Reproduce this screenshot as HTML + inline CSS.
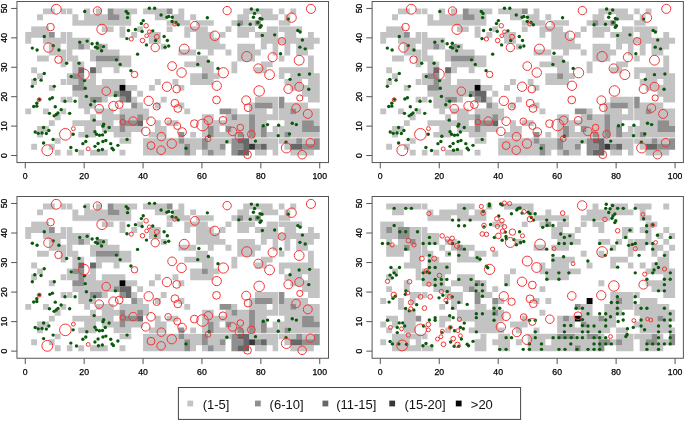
<!DOCTYPE html>
<html><head><meta charset="utf-8"><style>
html,body{margin:0;padding:0;background:#fff;}
svg{display:block;will-change:transform;}
text{font-family:"Liberation Sans", sans-serif;fill:#000;stroke:#000;stroke-width:0.25px;}
text.lg{stroke:none;fill:#111;}
</style></head><body>
<svg width="685" height="422" viewBox="0 0 685 422" font-size="8.7">
<rect width="685" height="422" fill="#fff"/>
<path fill="#c3c3c3" d="M42.95 8.44H54.73V14.32H42.95ZM60.62 8.44H72.39V14.32H60.62ZM84.17 8.44H90.06V14.32H84.17ZM95.95 8.44H101.84V14.32H95.95ZM113.62 8.44H137.17V14.32H113.62ZM143.06 8.44H166.62V14.32H143.06ZM178.40 8.44H184.29V14.32H178.40ZM243.18 8.44H272.63V14.32H243.18ZM278.52 8.44H284.40V14.32H278.52ZM290.29 8.44H296.18V14.32H290.29ZM37.06 14.32H42.95V20.21H37.06ZM72.39 14.32H78.28V20.21H72.39ZM84.17 14.32H107.73V20.21H84.17ZM119.51 14.32H131.29V20.21H119.51ZM154.84 14.32H166.62V20.21H154.84ZM172.51 14.32H184.29V20.21H172.51ZM190.18 14.32H196.07V20.21H190.18ZM237.29 14.32H249.07V20.21H237.29ZM260.85 14.32H278.52V20.21H260.85ZM284.40 14.32H290.29V20.21H284.40ZM72.39 20.21H131.29V26.09H72.39ZM166.62 20.21H190.18V26.09H166.62ZM196.07 20.21H213.73V26.09H196.07ZM231.40 20.21H237.29V26.09H231.40ZM243.18 20.21H254.96V26.09H243.18ZM278.52 20.21H290.29V26.09H278.52ZM31.17 26.09H48.84V31.97H31.17ZM101.84 26.09H113.62V31.97H101.84ZM119.51 26.09H125.40V31.97H119.51ZM137.17 26.09H143.06V31.97H137.17ZM166.62 26.09H172.51V31.97H166.62ZM184.29 26.09H207.85V31.97H184.29ZM225.51 26.09H231.40V31.97H225.51ZM237.29 26.09H254.96V31.97H237.29ZM266.74 26.09H302.07V31.97H266.74ZM25.28 31.97H48.84V37.86H25.28ZM60.62 31.97H72.39V37.86H60.62ZM119.51 31.97H125.40V37.86H119.51ZM131.29 31.97H137.17V37.86H131.29ZM148.95 31.97H160.73V37.86H148.95ZM184.29 31.97H190.18V37.86H184.29ZM196.07 31.97H213.73V37.86H196.07ZM219.62 31.97H225.51V37.86H219.62ZM237.29 31.97H249.07V37.86H237.29ZM254.96 31.97H278.52V37.86H254.96ZM284.40 31.97H296.18V37.86H284.40ZM307.96 31.97H313.85V37.86H307.96ZM25.28 37.86H31.17V43.74H25.28ZM42.95 37.86H90.06V43.74H42.95ZM148.95 37.86H160.73V43.74H148.95ZM196.07 37.86H219.62V43.74H196.07ZM260.85 37.86H319.74V43.74H260.85ZM48.84 43.74H60.62V49.62H48.84ZM66.50 43.74H78.28V49.62H66.50ZM84.17 43.74H90.06V49.62H84.17ZM101.84 43.74H107.73V49.62H101.84ZM160.73 43.74H166.62V49.62H160.73ZM196.07 43.74H225.51V49.62H196.07ZM237.29 43.74H254.96V49.62H237.29ZM260.85 43.74H266.74V49.62H260.85ZM272.63 43.74H278.52V49.62H272.63ZM284.40 43.74H290.29V49.62H284.40ZM296.18 43.74H313.85V49.62H296.18ZM48.84 49.62H72.39V55.51H48.84ZM90.06 49.62H119.51V55.51H90.06ZM178.40 49.62H196.07V55.51H178.40ZM207.85 49.62H213.73V55.51H207.85ZM225.51 49.62H231.40V55.51H225.51ZM237.29 49.62H260.85V55.51H237.29ZM272.63 49.62H278.52V55.51H272.63ZM284.40 49.62H290.29V55.51H284.40ZM296.18 49.62H307.96V55.51H296.18ZM37.06 55.51H48.84V61.39H37.06ZM60.62 55.51H78.28V61.39H60.62ZM90.06 55.51H95.95V61.39H90.06ZM119.51 55.51H131.29V61.39H119.51ZM196.07 55.51H207.85V61.39H196.07ZM237.29 55.51H254.96V61.39H237.29ZM278.52 55.51H284.40V61.39H278.52ZM307.96 55.51H313.85V61.39H307.96ZM60.62 61.39H66.50V67.27H60.62ZM72.39 61.39H84.17V67.27H72.39ZM95.95 61.39H131.29V67.27H95.95ZM184.29 61.39H213.73V67.27H184.29ZM231.40 61.39H237.29V67.27H231.40ZM260.85 61.39H272.63V67.27H260.85ZM307.96 61.39H313.85V67.27H307.96ZM31.17 67.27H37.06V73.16H31.17ZM72.39 67.27H78.28V73.16H72.39ZM95.95 67.27H101.84V73.16H95.95ZM113.62 67.27H119.51V73.16H113.62ZM201.96 67.27H213.73V73.16H201.96ZM231.40 67.27H237.29V73.16H231.40ZM254.96 67.27H266.74V73.16H254.96ZM278.52 67.27H313.85V73.16H278.52ZM37.06 73.16H42.95V79.04H37.06ZM66.50 73.16H72.39V79.04H66.50ZM90.06 73.16H95.95V79.04H90.06ZM190.18 73.16H201.96V79.04H190.18ZM207.85 73.16H219.62V79.04H207.85ZM278.52 73.16H284.40V79.04H278.52ZM290.29 73.16H319.74V79.04H290.29ZM31.17 79.04H37.06V84.92H31.17ZM60.62 79.04H78.28V84.92H60.62ZM84.17 79.04H95.95V84.92H84.17ZM101.84 79.04H125.40V84.92H101.84ZM154.84 79.04H160.73V84.92H154.84ZM172.51 79.04H178.40V84.92H172.51ZM190.18 79.04H213.73V84.92H190.18ZM284.40 79.04H302.07V84.92H284.40ZM307.96 79.04H319.74V84.92H307.96ZM48.84 84.92H54.73V90.80H48.84ZM84.17 84.92H119.51V90.80H84.17ZM125.40 84.92H137.17V90.80H125.40ZM148.95 84.92H154.84V90.80H148.95ZM178.40 84.92H184.29V90.80H178.40ZM290.29 84.92H319.74V90.80H290.29ZM72.39 90.80H113.62V96.69H72.39ZM137.17 90.80H143.06V96.69H137.17ZM302.07 90.80H319.74V96.69H302.07ZM60.62 96.69H72.39V102.57H60.62ZM78.28 96.69H90.06V102.57H78.28ZM101.84 96.69H107.73V102.57H101.84ZM131.29 96.69H137.17V102.57H131.29ZM160.73 96.69H166.62V102.57H160.73ZM254.96 96.69H278.52V102.57H254.96ZM307.96 96.69H319.74V102.57H307.96ZM78.28 102.57H95.95V108.45H78.28ZM137.17 102.57H143.06V108.45H137.17ZM154.84 102.57H160.73V108.45H154.84ZM178.40 102.57H184.29V108.45H178.40ZM249.07 102.57H254.96V108.45H249.07ZM272.63 102.57H278.52V108.45H272.63ZM284.40 102.57H307.96V108.45H284.40ZM25.28 108.45H31.17V114.34H25.28ZM42.95 108.45H48.84V114.34H42.95ZM60.62 108.45H66.50V114.34H60.62ZM84.17 108.45H90.06V114.34H84.17ZM95.95 108.45H113.62V114.34H95.95ZM119.51 108.45H148.95V114.34H119.51ZM184.29 108.45H190.18V114.34H184.29ZM231.40 108.45H237.29V114.34H231.40ZM249.07 108.45H266.74V114.34H249.07ZM272.63 108.45H290.29V114.34H272.63ZM296.18 108.45H319.74V114.34H296.18ZM54.73 114.34H60.62V120.22H54.73ZM90.06 114.34H95.95V120.22H90.06ZM101.84 114.34H119.51V120.22H101.84ZM125.40 114.34H137.17V120.22H125.40ZM143.06 114.34H148.95V120.22H143.06ZM201.96 114.34H213.73V120.22H201.96ZM225.51 114.34H231.40V120.22H225.51ZM237.29 114.34H249.07V120.22H237.29ZM254.96 114.34H319.74V120.22H254.96ZM48.84 120.22H54.73V126.10H48.84ZM72.39 120.22H113.62V126.10H72.39ZM154.84 120.22H160.73V126.10H154.84ZM166.62 120.22H178.40V126.10H166.62ZM201.96 120.22H249.07V126.10H201.96ZM254.96 120.22H266.74V126.10H254.96ZM284.40 120.22H302.07V126.10H284.40ZM313.85 120.22H319.74V126.10H313.85ZM37.06 126.10H48.84V131.99H37.06ZM84.17 126.10H95.95V131.99H84.17ZM101.84 126.10H119.51V131.99H101.84ZM125.40 126.10H143.06V131.99H125.40ZM154.84 126.10H166.62V131.99H154.84ZM201.96 126.10H207.85V131.99H201.96ZM213.73 126.10H219.62V131.99H213.73ZM231.40 126.10H249.07V131.99H231.40ZM254.96 126.10H260.85V131.99H254.96ZM272.63 126.10H302.07V131.99H272.63ZM37.06 131.99H42.95V137.87H37.06ZM78.28 131.99H95.95V137.87H78.28ZM113.62 131.99H131.29V137.87H113.62ZM148.95 131.99H166.62V137.87H148.95ZM190.18 131.99H196.07V137.87H190.18ZM201.96 131.99H207.85V137.87H201.96ZM213.73 131.99H237.29V137.87H213.73ZM243.18 131.99H249.07V137.87H243.18ZM254.96 131.99H260.85V137.87H254.96ZM266.74 131.99H284.40V137.87H266.74ZM290.29 131.99H319.74V137.87H290.29ZM54.73 137.87H60.62V143.75H54.73ZM119.51 137.87H131.29V143.75H119.51ZM143.06 137.87H178.40V143.75H143.06ZM184.29 137.87H201.96V143.75H184.29ZM207.85 137.87H231.40V143.75H207.85ZM249.07 137.87H296.18V143.75H249.07ZM302.07 137.87H313.85V143.75H302.07ZM31.17 143.75H37.06V149.64H31.17ZM48.84 143.75H54.73V149.64H48.84ZM143.06 143.75H184.29V149.64H143.06ZM190.18 143.75H201.96V149.64H190.18ZM207.85 143.75H219.62V149.64H207.85ZM266.74 143.75H278.52V149.64H266.74ZM284.40 143.75H290.29V149.64H284.40ZM54.73 149.64H60.62V155.52H54.73ZM66.50 149.64H72.39V155.52H66.50ZM78.28 149.64H84.17V155.52H78.28ZM90.06 149.64H107.73V155.52H90.06ZM119.51 149.64H125.40V155.52H119.51ZM143.06 149.64H184.29V155.52H143.06ZM190.18 149.64H196.07V155.52H190.18ZM201.96 149.64H207.85V155.52H201.96ZM213.73 149.64H225.51V155.52H213.73ZM254.96 149.64H266.74V155.52H254.96ZM272.63 149.64H278.52V155.52H272.63ZM290.29 149.64H313.85V155.52H290.29Z"/>
<path fill="#8f8f8f" d="M107.73 8.44H113.62V14.32H107.73ZM166.62 8.44H172.51V14.32H166.62ZM107.73 14.32H119.51V20.21H107.73ZM237.29 20.21H243.18V26.09H237.29ZM254.96 20.21H260.85V26.09H254.96ZM48.84 31.97H54.73V37.86H48.84ZM78.28 43.74H84.17V49.62H78.28ZM95.95 43.74H101.84V49.62H95.95ZM95.95 55.51H119.51V61.39H95.95ZM72.39 73.16H84.17V79.04H72.39ZM201.96 73.16H207.85V79.04H201.96ZM78.28 79.04H84.17V84.92H78.28ZM72.39 84.92H84.17V90.80H72.39ZM113.62 90.80H119.51V96.69H113.62ZM90.06 96.69H101.84V102.57H90.06ZM119.51 96.69H125.40V102.57H119.51ZM278.52 96.69H284.40V102.57H278.52ZM131.29 102.57H137.17V108.45H131.29ZM254.96 102.57H272.63V108.45H254.96ZM278.52 102.57H284.40V108.45H278.52ZM219.62 108.45H231.40V114.34H219.62ZM290.29 108.45H296.18V114.34H290.29ZM119.51 114.34H125.40V120.22H119.51ZM137.17 114.34H143.06V120.22H137.17ZM231.40 114.34H237.29V120.22H231.40ZM249.07 114.34H254.96V120.22H249.07ZM119.51 120.22H137.17V126.10H119.51ZM249.07 120.22H254.96V126.10H249.07ZM302.07 120.22H313.85V126.10H302.07ZM119.51 126.10H125.40V131.99H119.51ZM207.85 126.10H213.73V131.99H207.85ZM225.51 126.10H231.40V131.99H225.51ZM249.07 126.10H254.96V131.99H249.07ZM260.85 126.10H266.74V131.99H260.85ZM302.07 126.10H319.74V131.99H302.07ZM178.40 131.99H184.29V137.87H178.40ZM207.85 131.99H213.73V137.87H207.85ZM237.29 131.99H243.18V137.87H237.29ZM249.07 131.99H254.96V137.87H249.07ZM260.85 131.99H266.74V137.87H260.85ZM284.40 131.99H290.29V137.87H284.40ZM178.40 137.87H184.29V143.75H178.40ZM201.96 137.87H207.85V143.75H201.96ZM231.40 137.87H237.29V143.75H231.40ZM296.18 137.87H302.07V143.75H296.18ZM313.85 137.87H319.74V143.75H313.85ZM184.29 143.75H190.18V149.64H184.29ZM201.96 143.75H207.85V149.64H201.96ZM219.62 143.75H225.51V149.64H219.62ZM231.40 143.75H243.18V149.64H231.40ZM254.96 143.75H260.85V149.64H254.96ZM302.07 143.75H319.74V149.64H302.07ZM184.29 149.64H190.18V155.52H184.29ZM207.85 149.64H213.73V155.52H207.85ZM231.40 149.64H237.29V155.52H231.40Z"/>
<path fill="#676767" d="M78.28 67.27H84.17V73.16H78.28ZM90.06 67.27H95.95V73.16H90.06ZM119.51 90.80H131.29V96.69H119.51ZM125.40 96.69H131.29V102.57H125.40ZM137.17 120.22H143.06V126.10H137.17ZM237.29 137.87H249.07V143.75H237.29ZM243.18 143.75H249.07V149.64H243.18ZM260.85 143.75H266.74V149.64H260.85ZM290.29 143.75H302.07V149.64H290.29ZM237.29 149.64H249.07V155.52H237.29Z"/>
<path fill="#383838" d="M249.07 143.75H254.96V149.64H249.07Z"/>
<path fill="#050505" d="M119.51 84.92H125.40V90.80H119.51Z"/>
<line x1="66.50" y1="8.44" x2="66.50" y2="155.52" stroke="#fff" stroke-opacity="0.85" stroke-width="0.8"/>
<line x1="278.52" y1="8.44" x2="278.52" y2="155.52" stroke="#fff" stroke-opacity="0.85" stroke-width="0.8"/>
<line x1="25.28" y1="137.87" x2="319.74" y2="137.87" stroke="#fff" stroke-opacity="0.85" stroke-width="0.8"/>
<line x1="25.28" y1="26.09" x2="319.74" y2="26.09" stroke="#fff" stroke-opacity="0.85" stroke-width="0.8"/>
<circle cx="84.70" cy="11.53" r="1.70" fill="#0b5a0b"/>
<circle cx="44.27" cy="36.53" r="1.70" fill="#0b5a0b"/>
<circle cx="79.76" cy="42.24" r="1.70" fill="#0b5a0b"/>
<circle cx="87.18" cy="41.09" r="1.70" fill="#0b5a0b"/>
<circle cx="92.09" cy="43.74" r="1.70" fill="#0b5a0b"/>
<circle cx="97.22" cy="43.18" r="1.70" fill="#0b5a0b"/>
<circle cx="95.51" cy="47.15" r="1.70" fill="#0b5a0b"/>
<circle cx="97.42" cy="48.09" r="1.70" fill="#0b5a0b"/>
<circle cx="103.49" cy="46.59" r="1.70" fill="#0b5a0b"/>
<circle cx="101.57" cy="50.74" r="1.70" fill="#0b5a0b"/>
<circle cx="32.32" cy="48.09" r="1.70" fill="#0b5a0b"/>
<circle cx="37.09" cy="50.00" r="1.70" fill="#0b5a0b"/>
<circle cx="53.19" cy="45.65" r="1.70" fill="#0b5a0b"/>
<circle cx="58.91" cy="50.00" r="1.70" fill="#0b5a0b"/>
<circle cx="66.68" cy="63.27" r="1.70" fill="#0b5a0b"/>
<circle cx="79.02" cy="63.27" r="1.70" fill="#0b5a0b"/>
<circle cx="116.39" cy="59.86" r="1.70" fill="#0b5a0b"/>
<circle cx="120.18" cy="64.39" r="1.70" fill="#0b5a0b"/>
<circle cx="44.27" cy="73.51" r="1.70" fill="#0b5a0b"/>
<circle cx="34.79" cy="79.36" r="1.70" fill="#0b5a0b"/>
<circle cx="41.06" cy="80.13" r="1.70" fill="#0b5a0b"/>
<circle cx="71.22" cy="76.54" r="1.70" fill="#0b5a0b"/>
<circle cx="84.50" cy="80.51" r="1.70" fill="#0b5a0b"/>
<circle cx="126.19" cy="11.53" r="1.70" fill="#0b5a0b"/>
<circle cx="127.90" cy="13.41" r="1.70" fill="#0b5a0b"/>
<circle cx="127.52" cy="17.59" r="1.70" fill="#0b5a0b"/>
<circle cx="149.34" cy="8.29" r="1.70" fill="#0b5a0b"/>
<circle cx="154.64" cy="8.29" r="1.70" fill="#0b5a0b"/>
<circle cx="161.08" cy="14.94" r="1.70" fill="#0b5a0b"/>
<circle cx="166.97" cy="17.21" r="1.70" fill="#0b5a0b"/>
<circle cx="168.68" cy="16.44" r="1.70" fill="#0b5a0b"/>
<circle cx="172.27" cy="17.21" r="1.70" fill="#0b5a0b"/>
<circle cx="172.10" cy="21.56" r="1.70" fill="#0b5a0b"/>
<circle cx="175.90" cy="22.50" r="1.70" fill="#0b5a0b"/>
<circle cx="178.16" cy="24.80" r="1.70" fill="#0b5a0b"/>
<circle cx="143.24" cy="20.62" r="1.70" fill="#0b5a0b"/>
<circle cx="141.36" cy="23.47" r="1.70" fill="#0b5a0b"/>
<circle cx="135.47" cy="29.53" r="1.70" fill="#0b5a0b"/>
<circle cx="142.12" cy="31.41" r="1.70" fill="#0b5a0b"/>
<circle cx="128.46" cy="30.47" r="1.70" fill="#0b5a0b"/>
<circle cx="152.75" cy="30.85" r="1.70" fill="#0b5a0b"/>
<circle cx="164.12" cy="36.53" r="1.70" fill="#0b5a0b"/>
<circle cx="167.36" cy="40.53" r="1.70" fill="#0b5a0b"/>
<circle cx="155.58" cy="40.53" r="1.70" fill="#0b5a0b"/>
<circle cx="146.48" cy="44.89" r="1.70" fill="#0b5a0b"/>
<circle cx="165.06" cy="47.15" r="1.70" fill="#0b5a0b"/>
<circle cx="168.68" cy="46.00" r="1.70" fill="#0b5a0b"/>
<circle cx="126.93" cy="38.62" r="1.70" fill="#0b5a0b"/>
<circle cx="137.56" cy="54.15" r="1.70" fill="#0b5a0b"/>
<circle cx="207.37" cy="17.76" r="1.70" fill="#0b5a0b"/>
<circle cx="198.83" cy="53.21" r="1.70" fill="#0b5a0b"/>
<circle cx="208.35" cy="61.18" r="1.70" fill="#0b5a0b"/>
<circle cx="197.72" cy="64.39" r="1.70" fill="#0b5a0b"/>
<circle cx="218.00" cy="68.39" r="1.70" fill="#0b5a0b"/>
<circle cx="130.93" cy="70.65" r="1.70" fill="#0b5a0b"/>
<circle cx="251.34" cy="9.06" r="1.70" fill="#0b5a0b"/>
<circle cx="257.40" cy="10.00" r="1.70" fill="#0b5a0b"/>
<circle cx="254.58" cy="13.41" r="1.70" fill="#0b5a0b"/>
<circle cx="253.43" cy="17.21" r="1.70" fill="#0b5a0b"/>
<circle cx="260.08" cy="18.53" r="1.70" fill="#0b5a0b"/>
<circle cx="261.97" cy="19.09" r="1.70" fill="#0b5a0b"/>
<circle cx="257.79" cy="22.50" r="1.70" fill="#0b5a0b"/>
<circle cx="250.22" cy="24.21" r="1.70" fill="#0b5a0b"/>
<circle cx="238.82" cy="24.80" r="1.70" fill="#0b5a0b"/>
<circle cx="261.20" cy="25.74" r="1.70" fill="#0b5a0b"/>
<circle cx="260.08" cy="27.24" r="1.70" fill="#0b5a0b"/>
<circle cx="262.35" cy="35.41" r="1.70" fill="#0b5a0b"/>
<circle cx="274.69" cy="34.83" r="1.70" fill="#0b5a0b"/>
<circle cx="288.14" cy="19.09" r="1.70" fill="#0b5a0b"/>
<circle cx="297.83" cy="30.47" r="1.70" fill="#0b5a0b"/>
<circle cx="300.10" cy="32.00" r="1.70" fill="#0b5a0b"/>
<circle cx="302.40" cy="39.94" r="1.70" fill="#0b5a0b"/>
<circle cx="299.92" cy="47.15" r="1.70" fill="#0b5a0b"/>
<circle cx="305.22" cy="48.86" r="1.70" fill="#0b5a0b"/>
<circle cx="280.58" cy="53.80" r="1.70" fill="#0b5a0b"/>
<circle cx="299.16" cy="74.63" r="1.70" fill="#0b5a0b"/>
<circle cx="309.58" cy="74.07" r="1.70" fill="#0b5a0b"/>
<circle cx="290.06" cy="79.36" r="1.70" fill="#0b5a0b"/>
<circle cx="32.32" cy="86.33" r="1.70" fill="#0b5a0b"/>
<circle cx="54.31" cy="86.33" r="1.70" fill="#0b5a0b"/>
<circle cx="85.23" cy="88.28" r="1.70" fill="#0b5a0b"/>
<circle cx="86.38" cy="96.42" r="1.70" fill="#0b5a0b"/>
<circle cx="94.57" cy="101.28" r="1.70" fill="#0b5a0b"/>
<circle cx="90.68" cy="104.78" r="1.70" fill="#0b5a0b"/>
<circle cx="115.36" cy="95.45" r="1.70" fill="#0b5a0b"/>
<circle cx="39.53" cy="99.34" r="1.70" fill="#0b5a0b"/>
<circle cx="36.79" cy="103.22" r="1.70" fill="#0b5a0b"/>
<circle cx="33.70" cy="106.54" r="1.70" fill="#0b5a0b"/>
<circle cx="36.79" cy="106.13" r="1.70" fill="#0b5a0b"/>
<circle cx="49.84" cy="98.95" r="1.70" fill="#0b5a0b"/>
<circle cx="52.37" cy="97.78" r="1.70" fill="#0b5a0b"/>
<circle cx="65.00" cy="101.28" r="1.70" fill="#0b5a0b"/>
<circle cx="75.10" cy="101.28" r="1.70" fill="#0b5a0b"/>
<circle cx="55.29" cy="106.72" r="1.70" fill="#0b5a0b"/>
<circle cx="61.12" cy="109.63" r="1.70" fill="#0b5a0b"/>
<circle cx="49.46" cy="113.34" r="1.70" fill="#0b5a0b"/>
<circle cx="54.11" cy="115.87" r="1.70" fill="#0b5a0b"/>
<circle cx="56.26" cy="114.48" r="1.70" fill="#0b5a0b"/>
<circle cx="57.99" cy="112.96" r="1.70" fill="#0b5a0b"/>
<circle cx="69.66" cy="113.34" r="1.70" fill="#0b5a0b"/>
<circle cx="94.15" cy="120.13" r="1.70" fill="#0b5a0b"/>
<circle cx="103.69" cy="124.22" r="1.70" fill="#0b5a0b"/>
<circle cx="102.93" cy="126.16" r="1.70" fill="#0b5a0b"/>
<circle cx="109.14" cy="127.52" r="1.70" fill="#0b5a0b"/>
<circle cx="43.60" cy="127.52" r="1.70" fill="#0b5a0b"/>
<circle cx="48.87" cy="130.43" r="1.70" fill="#0b5a0b"/>
<circle cx="35.23" cy="131.99" r="1.70" fill="#0b5a0b"/>
<circle cx="38.18" cy="133.34" r="1.70" fill="#0b5a0b"/>
<circle cx="42.06" cy="132.96" r="1.70" fill="#0b5a0b"/>
<circle cx="46.33" cy="133.55" r="1.70" fill="#0b5a0b"/>
<circle cx="53.14" cy="139.55" r="1.70" fill="#0b5a0b"/>
<circle cx="43.60" cy="143.05" r="1.70" fill="#0b5a0b"/>
<circle cx="73.16" cy="134.31" r="1.70" fill="#0b5a0b"/>
<circle cx="86.76" cy="136.25" r="1.70" fill="#0b5a0b"/>
<circle cx="94.95" cy="131.78" r="1.70" fill="#0b5a0b"/>
<circle cx="96.51" cy="134.31" r="1.70" fill="#0b5a0b"/>
<circle cx="99.43" cy="135.28" r="1.70" fill="#0b5a0b"/>
<circle cx="102.52" cy="134.90" r="1.70" fill="#0b5a0b"/>
<circle cx="105.26" cy="131.99" r="1.70" fill="#0b5a0b"/>
<circle cx="85.79" cy="141.49" r="1.70" fill="#0b5a0b"/>
<circle cx="82.88" cy="143.64" r="1.70" fill="#0b5a0b"/>
<circle cx="98.07" cy="143.43" r="1.70" fill="#0b5a0b"/>
<circle cx="102.93" cy="141.49" r="1.70" fill="#0b5a0b"/>
<circle cx="105.84" cy="140.52" r="1.70" fill="#0b5a0b"/>
<circle cx="110.70" cy="143.64" r="1.70" fill="#0b5a0b"/>
<circle cx="117.89" cy="145.37" r="1.70" fill="#0b5a0b"/>
<circle cx="94.95" cy="146.34" r="1.70" fill="#0b5a0b"/>
<circle cx="70.83" cy="147.52" r="1.70" fill="#0b5a0b"/>
<circle cx="76.46" cy="150.43" r="1.70" fill="#0b5a0b"/>
<circle cx="98.45" cy="150.23" r="1.70" fill="#0b5a0b"/>
<circle cx="102.34" cy="149.46" r="1.70" fill="#0b5a0b"/>
<circle cx="112.06" cy="148.28" r="1.70" fill="#0b5a0b"/>
<circle cx="113.41" cy="149.84" r="1.70" fill="#0b5a0b"/>
<circle cx="127.07" cy="139.55" r="1.70" fill="#0b5a0b"/>
<circle cx="186.00" cy="148.28" r="1.70" fill="#0b5a0b"/>
<circle cx="208.96" cy="136.25" r="1.70" fill="#0b5a0b"/>
<circle cx="226.84" cy="141.69" r="1.70" fill="#0b5a0b"/>
<circle cx="308.76" cy="89.25" r="1.70" fill="#0b5a0b"/>
<circle cx="263.26" cy="125.75" r="1.70" fill="#0b5a0b"/>
<circle cx="267.53" cy="124.60" r="1.70" fill="#0b5a0b"/>
<circle cx="278.63" cy="125.19" r="1.70" fill="#0b5a0b"/>
<circle cx="292.24" cy="123.25" r="1.70" fill="#0b5a0b"/>
<circle cx="296.33" cy="124.60" r="1.70" fill="#0b5a0b"/>
<circle cx="278.22" cy="135.66" r="1.70" fill="#0b5a0b"/>
<circle cx="289.50" cy="133.93" r="1.70" fill="#0b5a0b"/>
<circle cx="286.02" cy="142.08" r="1.70" fill="#0b5a0b"/>
<circle cx="255.49" cy="141.11" r="1.70" fill="#0b5a0b"/>
<circle cx="56.23" cy="9.23" r="4.93" fill="none" stroke="#f23636" stroke-width="1.00"/>
<circle cx="97.42" cy="10.94" r="4.17" fill="none" stroke="#f23636" stroke-width="1.00"/>
<circle cx="50.54" cy="27.06" r="3.79" fill="none" stroke="#f23636" stroke-width="1.00"/>
<circle cx="101.96" cy="29.33" r="5.12" fill="none" stroke="#f23636" stroke-width="1.00"/>
<circle cx="48.45" cy="47.53" r="4.74" fill="none" stroke="#f23636" stroke-width="1.00"/>
<circle cx="58.52" cy="59.65" r="3.79" fill="none" stroke="#f23636" stroke-width="1.00"/>
<circle cx="83.94" cy="74.27" r="5.31" fill="none" stroke="#f23636" stroke-width="1.00"/>
<circle cx="146.10" cy="25.74" r="2.27" fill="none" stroke="#f23636" stroke-width="1.00"/>
<circle cx="149.34" cy="31.80" r="1.90" fill="none" stroke="#f23636" stroke-width="1.00"/>
<circle cx="146.66" cy="35.77" r="1.90" fill="none" stroke="#f23636" stroke-width="1.00"/>
<circle cx="156.90" cy="36.74" r="2.46" fill="none" stroke="#f23636" stroke-width="1.00"/>
<circle cx="142.50" cy="40.53" r="2.27" fill="none" stroke="#f23636" stroke-width="1.00"/>
<circle cx="131.29" cy="39.00" r="2.09" fill="none" stroke="#f23636" stroke-width="1.00"/>
<circle cx="155.20" cy="47.53" r="4.17" fill="none" stroke="#f23636" stroke-width="1.00"/>
<circle cx="174.57" cy="24.21" r="1.90" fill="none" stroke="#f23636" stroke-width="1.00"/>
<circle cx="194.86" cy="25.74" r="4.36" fill="none" stroke="#f23636" stroke-width="1.00"/>
<circle cx="214.79" cy="35.77" r="4.74" fill="none" stroke="#f23636" stroke-width="1.00"/>
<circle cx="184.23" cy="49.03" r="4.93" fill="none" stroke="#f23636" stroke-width="1.00"/>
<circle cx="172.10" cy="66.10" r="4.36" fill="none" stroke="#f23636" stroke-width="1.00"/>
<circle cx="181.58" cy="72.57" r="4.74" fill="none" stroke="#f23636" stroke-width="1.00"/>
<circle cx="223.33" cy="72.74" r="5.12" fill="none" stroke="#f23636" stroke-width="1.00"/>
<circle cx="134.52" cy="74.45" r="3.22" fill="none" stroke="#f23636" stroke-width="1.00"/>
<circle cx="227.13" cy="10.56" r="4.17" fill="none" stroke="#f23636" stroke-width="1.00"/>
<circle cx="310.94" cy="8.85" r="4.55" fill="none" stroke="#f23636" stroke-width="1.00"/>
<circle cx="291.56" cy="17.59" r="4.74" fill="none" stroke="#f23636" stroke-width="1.00"/>
<circle cx="281.90" cy="41.27" r="3.79" fill="none" stroke="#f23636" stroke-width="1.00"/>
<circle cx="246.80" cy="56.62" r="5.12" fill="none" stroke="#f23636" stroke-width="1.00"/>
<circle cx="272.60" cy="57.21" r="4.55" fill="none" stroke="#f23636" stroke-width="1.00"/>
<circle cx="299.16" cy="60.24" r="4.93" fill="none" stroke="#f23636" stroke-width="1.00"/>
<circle cx="258.37" cy="68.39" r="4.55" fill="none" stroke="#f23636" stroke-width="1.00"/>
<circle cx="269.56" cy="74.63" r="4.93" fill="none" stroke="#f23636" stroke-width="1.00"/>
<circle cx="106.23" cy="91.19" r="4.27" fill="none" stroke="#f23636" stroke-width="1.00"/>
<circle cx="99.22" cy="108.66" r="4.27" fill="none" stroke="#f23636" stroke-width="1.00"/>
<circle cx="113.41" cy="106.13" r="4.66" fill="none" stroke="#f23636" stroke-width="1.00"/>
<circle cx="119.24" cy="104.60" r="3.89" fill="none" stroke="#f23636" stroke-width="1.00"/>
<circle cx="122.75" cy="122.07" r="2.72" fill="none" stroke="#f23636" stroke-width="1.00"/>
<circle cx="39.15" cy="99.72" r="1.94" fill="none" stroke="#f23636" stroke-width="1.00"/>
<circle cx="65.39" cy="134.31" r="5.83" fill="none" stroke="#f23636" stroke-width="1.00"/>
<circle cx="73.37" cy="128.66" r="1.94" fill="none" stroke="#f23636" stroke-width="1.00"/>
<circle cx="47.31" cy="150.23" r="5.44" fill="none" stroke="#f23636" stroke-width="1.00"/>
<circle cx="88.15" cy="148.87" r="1.94" fill="none" stroke="#f23636" stroke-width="1.00"/>
<circle cx="166.94" cy="86.72" r="4.66" fill="none" stroke="#f23636" stroke-width="1.00"/>
<circle cx="176.66" cy="89.04" r="3.89" fill="none" stroke="#f23636" stroke-width="1.00"/>
<circle cx="216.74" cy="85.75" r="4.66" fill="none" stroke="#f23636" stroke-width="1.00"/>
<circle cx="216.53" cy="99.92" r="3.89" fill="none" stroke="#f23636" stroke-width="1.00"/>
<circle cx="148.66" cy="100.89" r="4.66" fill="none" stroke="#f23636" stroke-width="1.00"/>
<circle cx="156.64" cy="106.54" r="3.50" fill="none" stroke="#f23636" stroke-width="1.00"/>
<circle cx="174.92" cy="103.22" r="3.89" fill="none" stroke="#f23636" stroke-width="1.00"/>
<circle cx="177.84" cy="108.48" r="3.89" fill="none" stroke="#f23636" stroke-width="1.00"/>
<circle cx="133.11" cy="121.10" r="4.27" fill="none" stroke="#f23636" stroke-width="1.00"/>
<circle cx="151.01" cy="121.28" r="4.27" fill="none" stroke="#f23636" stroke-width="1.00"/>
<circle cx="168.12" cy="121.28" r="3.30" fill="none" stroke="#f23636" stroke-width="1.00"/>
<circle cx="177.25" cy="125.96" r="3.50" fill="none" stroke="#f23636" stroke-width="1.00"/>
<circle cx="182.11" cy="131.99" r="4.27" fill="none" stroke="#f23636" stroke-width="1.00"/>
<circle cx="145.74" cy="131.40" r="4.27" fill="none" stroke="#f23636" stroke-width="1.00"/>
<circle cx="161.32" cy="136.63" r="4.27" fill="none" stroke="#f23636" stroke-width="1.00"/>
<circle cx="194.36" cy="123.63" r="3.89" fill="none" stroke="#f23636" stroke-width="1.00"/>
<circle cx="202.54" cy="124.99" r="5.83" fill="none" stroke="#f23636" stroke-width="1.00"/>
<circle cx="208.38" cy="120.31" r="4.27" fill="none" stroke="#f23636" stroke-width="1.00"/>
<circle cx="222.95" cy="120.31" r="3.89" fill="none" stroke="#f23636" stroke-width="1.00"/>
<circle cx="207.99" cy="138.78" r="2.91" fill="none" stroke="#f23636" stroke-width="1.00"/>
<circle cx="151.01" cy="145.58" r="3.89" fill="none" stroke="#f23636" stroke-width="1.00"/>
<circle cx="171.80" cy="143.64" r="4.66" fill="none" stroke="#f23636" stroke-width="1.00"/>
<circle cx="161.11" cy="150.23" r="4.27" fill="none" stroke="#f23636" stroke-width="1.00"/>
<circle cx="259.17" cy="90.98" r="5.25" fill="none" stroke="#f23636" stroke-width="1.00"/>
<circle cx="246.15" cy="100.31" r="4.47" fill="none" stroke="#f23636" stroke-width="1.00"/>
<circle cx="248.10" cy="107.69" r="3.89" fill="none" stroke="#f23636" stroke-width="1.00"/>
<circle cx="288.35" cy="89.04" r="4.47" fill="none" stroke="#f23636" stroke-width="1.00"/>
<circle cx="299.25" cy="86.72" r="4.47" fill="none" stroke="#f23636" stroke-width="1.00"/>
<circle cx="299.81" cy="97.98" r="3.11" fill="none" stroke="#f23636" stroke-width="1.00"/>
<circle cx="296.12" cy="108.07" r="4.27" fill="none" stroke="#f23636" stroke-width="1.00"/>
<circle cx="307.78" cy="113.93" r="4.47" fill="none" stroke="#f23636" stroke-width="1.00"/>
<circle cx="240.32" cy="127.52" r="3.30" fill="none" stroke="#f23636" stroke-width="1.00"/>
<circle cx="232.52" cy="131.40" r="4.27" fill="none" stroke="#f23636" stroke-width="1.00"/>
<circle cx="239.35" cy="136.25" r="4.27" fill="none" stroke="#f23636" stroke-width="1.00"/>
<circle cx="251.40" cy="134.31" r="3.89" fill="none" stroke="#f23636" stroke-width="1.00"/>
<circle cx="286.41" cy="147.90" r="5.05" fill="none" stroke="#f23636" stroke-width="1.00"/>
<circle cx="310.32" cy="142.67" r="4.27" fill="none" stroke="#f23636" stroke-width="1.00"/>
<circle cx="302.16" cy="154.70" r="4.27" fill="none" stroke="#f23636" stroke-width="1.00"/>
<circle cx="247.51" cy="154.70" r="3.89" fill="none" stroke="#f23636" stroke-width="1.00"/>
<rect x="16.94" y="1.52" width="311.56" height="161.04" fill="none" stroke="#555" stroke-width="1"/>
<line x1="25.28" y1="162.56" x2="25.28" y2="168.36" stroke="#555" stroke-width="1"/>
<text x="25.28" y="179.16" text-anchor="middle">0</text>
<line x1="84.17" y1="162.56" x2="84.17" y2="168.36" stroke="#555" stroke-width="1"/>
<text x="84.17" y="179.16" text-anchor="middle">20</text>
<line x1="143.06" y1="162.56" x2="143.06" y2="168.36" stroke="#555" stroke-width="1"/>
<text x="143.06" y="179.16" text-anchor="middle">40</text>
<line x1="201.96" y1="162.56" x2="201.96" y2="168.36" stroke="#555" stroke-width="1"/>
<text x="201.96" y="179.16" text-anchor="middle">60</text>
<line x1="260.85" y1="162.56" x2="260.85" y2="168.36" stroke="#555" stroke-width="1"/>
<text x="260.85" y="179.16" text-anchor="middle">80</text>
<line x1="319.74" y1="162.56" x2="319.74" y2="168.36" stroke="#555" stroke-width="1"/>
<text x="319.74" y="179.16" text-anchor="middle">100</text>
<line x1="16.94" y1="155.52" x2="11.14" y2="155.52" stroke="#555" stroke-width="1"/>
<text transform="translate(6.84 155.52) rotate(-90)" text-anchor="middle">0</text>
<line x1="16.94" y1="126.10" x2="11.14" y2="126.10" stroke="#555" stroke-width="1"/>
<text transform="translate(6.84 126.10) rotate(-90)" text-anchor="middle">10</text>
<line x1="16.94" y1="96.69" x2="11.14" y2="96.69" stroke="#555" stroke-width="1"/>
<text transform="translate(6.84 96.69) rotate(-90)" text-anchor="middle">20</text>
<line x1="16.94" y1="67.27" x2="11.14" y2="67.27" stroke="#555" stroke-width="1"/>
<text transform="translate(6.84 67.27) rotate(-90)" text-anchor="middle">30</text>
<line x1="16.94" y1="37.86" x2="11.14" y2="37.86" stroke="#555" stroke-width="1"/>
<text transform="translate(6.84 37.86) rotate(-90)" text-anchor="middle">40</text>
<line x1="16.94" y1="8.44" x2="11.14" y2="8.44" stroke="#555" stroke-width="1"/>
<text transform="translate(6.84 8.44) rotate(-90)" text-anchor="middle">50</text>
<path fill="#c3c3c3" d="M397.97 8.44H409.76V14.32H397.97ZM415.66 8.44H427.45V14.32H415.66ZM439.24 8.44H445.14V14.32H439.24ZM451.03 8.44H456.93V14.32H451.03ZM468.72 8.44H492.30V14.32H468.72ZM498.20 8.44H521.78V14.32H498.20ZM533.58 8.44H539.47V14.32H533.58ZM598.43 8.44H627.91V14.32H598.43ZM633.81 8.44H639.70V14.32H633.81ZM645.60 8.44H651.50V14.32H645.60ZM392.07 14.32H397.97V20.21H392.07ZM427.45 14.32H433.34V20.21H427.45ZM439.24 14.32H462.82V20.21H439.24ZM474.62 14.32H486.41V20.21H474.62ZM509.99 14.32H521.78V20.21H509.99ZM527.68 14.32H539.47V20.21H527.68ZM545.37 14.32H551.26V20.21H545.37ZM592.54 14.32H604.33V20.21H592.54ZM616.12 14.32H633.81V20.21H616.12ZM639.70 14.32H645.60V20.21H639.70ZM427.45 20.21H486.41V26.09H427.45ZM521.78 20.21H545.37V26.09H521.78ZM551.26 20.21H568.95V26.09H551.26ZM586.64 20.21H592.54V26.09H586.64ZM598.43 20.21H610.22V26.09H598.43ZM633.81 20.21H645.60V26.09H633.81ZM386.18 26.09H403.86V31.97H386.18ZM456.93 26.09H468.72V31.97H456.93ZM474.62 26.09H480.51V31.97H474.62ZM492.30 26.09H498.20V31.97H492.30ZM521.78 26.09H527.68V31.97H521.78ZM539.47 26.09H563.06V31.97H539.47ZM580.74 26.09H586.64V31.97H580.74ZM592.54 26.09H610.22V31.97H592.54ZM622.02 26.09H657.39V31.97H622.02ZM380.28 31.97H403.86V37.86H380.28ZM415.66 31.97H427.45V37.86H415.66ZM474.62 31.97H480.51V37.86H474.62ZM486.41 31.97H492.30V37.86H486.41ZM504.10 31.97H515.89V37.86H504.10ZM539.47 31.97H545.37V37.86H539.47ZM551.26 31.97H568.95V37.86H551.26ZM574.85 31.97H580.74V37.86H574.85ZM592.54 31.97H604.33V37.86H592.54ZM610.22 31.97H633.81V37.86H610.22ZM639.70 31.97H651.50V37.86H639.70ZM663.29 31.97H669.18V37.86H663.29ZM380.28 37.86H386.18V43.74H380.28ZM397.97 37.86H445.14V43.74H397.97ZM504.10 37.86H515.89V43.74H504.10ZM551.26 37.86H574.85V43.74H551.26ZM616.12 37.86H675.08V43.74H616.12ZM403.86 43.74H415.66V49.62H403.86ZM421.55 43.74H433.34V49.62H421.55ZM439.24 43.74H445.14V49.62H439.24ZM456.93 43.74H462.82V49.62H456.93ZM515.89 43.74H521.78V49.62H515.89ZM551.26 43.74H580.74V49.62H551.26ZM592.54 43.74H610.22V49.62H592.54ZM616.12 43.74H622.02V49.62H616.12ZM627.91 43.74H633.81V49.62H627.91ZM639.70 43.74H645.60V49.62H639.70ZM651.50 43.74H669.18V49.62H651.50ZM403.86 49.62H427.45V55.51H403.86ZM445.14 49.62H474.62V55.51H445.14ZM533.58 49.62H551.26V55.51H533.58ZM563.06 49.62H568.95V55.51H563.06ZM580.74 49.62H586.64V55.51H580.74ZM592.54 49.62H616.12V55.51H592.54ZM627.91 49.62H633.81V55.51H627.91ZM639.70 49.62H645.60V55.51H639.70ZM651.50 49.62H663.29V55.51H651.50ZM392.07 55.51H403.86V61.39H392.07ZM415.66 55.51H433.34V61.39H415.66ZM445.14 55.51H451.03V61.39H445.14ZM474.62 55.51H486.41V61.39H474.62ZM551.26 55.51H563.06V61.39H551.26ZM592.54 55.51H610.22V61.39H592.54ZM633.81 55.51H639.70V61.39H633.81ZM663.29 55.51H669.18V61.39H663.29ZM415.66 61.39H421.55V67.27H415.66ZM427.45 61.39H439.24V67.27H427.45ZM451.03 61.39H486.41V67.27H451.03ZM539.47 61.39H568.95V67.27H539.47ZM586.64 61.39H592.54V67.27H586.64ZM616.12 61.39H627.91V67.27H616.12ZM663.29 61.39H669.18V67.27H663.29ZM386.18 67.27H392.07V73.16H386.18ZM427.45 67.27H433.34V73.16H427.45ZM451.03 67.27H456.93V73.16H451.03ZM468.72 67.27H474.62V73.16H468.72ZM557.16 67.27H568.95V73.16H557.16ZM586.64 67.27H592.54V73.16H586.64ZM610.22 67.27H622.02V73.16H610.22ZM633.81 67.27H669.18V73.16H633.81ZM392.07 73.16H397.97V79.04H392.07ZM421.55 73.16H427.45V79.04H421.55ZM445.14 73.16H451.03V79.04H445.14ZM545.37 73.16H557.16V79.04H545.37ZM563.06 73.16H574.85V79.04H563.06ZM633.81 73.16H639.70V79.04H633.81ZM645.60 73.16H675.08V79.04H645.60ZM386.18 79.04H392.07V84.92H386.18ZM415.66 79.04H433.34V84.92H415.66ZM439.24 79.04H451.03V84.92H439.24ZM456.93 79.04H480.51V84.92H456.93ZM509.99 79.04H515.89V84.92H509.99ZM527.68 79.04H533.58V84.92H527.68ZM545.37 79.04H568.95V84.92H545.37ZM639.70 79.04H657.39V84.92H639.70ZM663.29 79.04H675.08V84.92H663.29ZM403.86 84.92H409.76V90.80H403.86ZM439.24 84.92H474.62V90.80H439.24ZM480.51 84.92H492.30V90.80H480.51ZM504.10 84.92H509.99V90.80H504.10ZM533.58 84.92H539.47V90.80H533.58ZM645.60 84.92H675.08V90.80H645.60ZM427.45 90.80H468.72V96.69H427.45ZM492.30 90.80H498.20V96.69H492.30ZM657.39 90.80H675.08V96.69H657.39ZM415.66 96.69H427.45V102.57H415.66ZM433.34 96.69H445.14V102.57H433.34ZM456.93 96.69H462.82V102.57H456.93ZM486.41 96.69H492.30V102.57H486.41ZM515.89 96.69H521.78V102.57H515.89ZM610.22 96.69H633.81V102.57H610.22ZM663.29 96.69H675.08V102.57H663.29ZM433.34 102.57H451.03V108.45H433.34ZM492.30 102.57H498.20V108.45H492.30ZM509.99 102.57H515.89V108.45H509.99ZM533.58 102.57H539.47V108.45H533.58ZM604.33 102.57H610.22V108.45H604.33ZM627.91 102.57H633.81V108.45H627.91ZM639.70 102.57H663.29V108.45H639.70ZM380.28 108.45H386.18V114.34H380.28ZM397.97 108.45H403.86V114.34H397.97ZM415.66 108.45H421.55V114.34H415.66ZM439.24 108.45H445.14V114.34H439.24ZM451.03 108.45H468.72V114.34H451.03ZM474.62 108.45H504.10V114.34H474.62ZM539.47 108.45H545.37V114.34H539.47ZM586.64 108.45H592.54V114.34H586.64ZM604.33 108.45H622.02V114.34H604.33ZM627.91 108.45H645.60V114.34H627.91ZM651.50 108.45H675.08V114.34H651.50ZM409.76 114.34H415.66V120.22H409.76ZM445.14 114.34H451.03V120.22H445.14ZM456.93 114.34H474.62V120.22H456.93ZM480.51 114.34H492.30V120.22H480.51ZM498.20 114.34H504.10V120.22H498.20ZM557.16 114.34H568.95V120.22H557.16ZM580.74 114.34H586.64V120.22H580.74ZM592.54 114.34H604.33V120.22H592.54ZM610.22 114.34H675.08V120.22H610.22ZM403.86 120.22H409.76V126.10H403.86ZM427.45 120.22H468.72V126.10H427.45ZM509.99 120.22H515.89V126.10H509.99ZM521.78 120.22H533.58V126.10H521.78ZM557.16 120.22H604.33V126.10H557.16ZM610.22 120.22H622.02V126.10H610.22ZM639.70 120.22H657.39V126.10H639.70ZM669.18 120.22H675.08V126.10H669.18ZM392.07 126.10H403.86V131.99H392.07ZM439.24 126.10H451.03V131.99H439.24ZM456.93 126.10H474.62V131.99H456.93ZM480.51 126.10H498.20V131.99H480.51ZM509.99 126.10H521.78V131.99H509.99ZM557.16 126.10H563.06V131.99H557.16ZM568.95 126.10H574.85V131.99H568.95ZM586.64 126.10H604.33V131.99H586.64ZM610.22 126.10H616.12V131.99H610.22ZM627.91 126.10H657.39V131.99H627.91ZM392.07 131.99H397.97V137.87H392.07ZM433.34 131.99H451.03V137.87H433.34ZM468.72 131.99H486.41V137.87H468.72ZM504.10 131.99H521.78V137.87H504.10ZM545.37 131.99H551.26V137.87H545.37ZM557.16 131.99H563.06V137.87H557.16ZM568.95 131.99H592.54V137.87H568.95ZM598.43 131.99H604.33V137.87H598.43ZM610.22 131.99H616.12V137.87H610.22ZM622.02 131.99H639.70V137.87H622.02ZM645.60 131.99H675.08V137.87H645.60ZM409.76 137.87H415.66V143.75H409.76ZM474.62 137.87H486.41V143.75H474.62ZM498.20 137.87H533.58V143.75H498.20ZM539.47 137.87H557.16V143.75H539.47ZM563.06 137.87H586.64V143.75H563.06ZM604.33 137.87H651.50V143.75H604.33ZM657.39 137.87H669.18V143.75H657.39ZM386.18 143.75H392.07V149.64H386.18ZM403.86 143.75H409.76V149.64H403.86ZM498.20 143.75H539.47V149.64H498.20ZM545.37 143.75H557.16V149.64H545.37ZM563.06 143.75H574.85V149.64H563.06ZM622.02 143.75H633.81V149.64H622.02ZM639.70 143.75H645.60V149.64H639.70ZM409.76 149.64H415.66V155.52H409.76ZM421.55 149.64H427.45V155.52H421.55ZM433.34 149.64H439.24V155.52H433.34ZM445.14 149.64H462.82V155.52H445.14ZM474.62 149.64H480.51V155.52H474.62ZM498.20 149.64H539.47V155.52H498.20ZM545.37 149.64H551.26V155.52H545.37ZM557.16 149.64H563.06V155.52H557.16ZM568.95 149.64H580.74V155.52H568.95ZM610.22 149.64H622.02V155.52H610.22ZM627.91 149.64H633.81V155.52H627.91ZM645.60 149.64H669.18V155.52H645.60Z"/>
<path fill="#8f8f8f" d="M462.82 8.44H468.72V14.32H462.82ZM521.78 8.44H527.68V14.32H521.78ZM462.82 14.32H474.62V20.21H462.82ZM592.54 20.21H598.43V26.09H592.54ZM610.22 20.21H616.12V26.09H610.22ZM403.86 31.97H409.76V37.86H403.86ZM433.34 43.74H439.24V49.62H433.34ZM451.03 43.74H456.93V49.62H451.03ZM451.03 55.51H474.62V61.39H451.03ZM427.45 73.16H439.24V79.04H427.45ZM557.16 73.16H563.06V79.04H557.16ZM433.34 79.04H439.24V84.92H433.34ZM427.45 84.92H439.24V90.80H427.45ZM468.72 90.80H474.62V96.69H468.72ZM445.14 96.69H456.93V102.57H445.14ZM474.62 96.69H480.51V102.57H474.62ZM633.81 96.69H639.70V102.57H633.81ZM486.41 102.57H492.30V108.45H486.41ZM610.22 102.57H627.91V108.45H610.22ZM633.81 102.57H639.70V108.45H633.81ZM574.85 108.45H586.64V114.34H574.85ZM645.60 108.45H651.50V114.34H645.60ZM474.62 114.34H480.51V120.22H474.62ZM492.30 114.34H498.20V120.22H492.30ZM586.64 114.34H592.54V120.22H586.64ZM604.33 114.34H610.22V120.22H604.33ZM474.62 120.22H492.30V126.10H474.62ZM604.33 120.22H610.22V126.10H604.33ZM657.39 120.22H669.18V126.10H657.39ZM474.62 126.10H480.51V131.99H474.62ZM563.06 126.10H568.95V131.99H563.06ZM580.74 126.10H586.64V131.99H580.74ZM604.33 126.10H610.22V131.99H604.33ZM616.12 126.10H622.02V131.99H616.12ZM657.39 126.10H675.08V131.99H657.39ZM533.58 131.99H539.47V137.87H533.58ZM563.06 131.99H568.95V137.87H563.06ZM592.54 131.99H598.43V137.87H592.54ZM604.33 131.99H610.22V137.87H604.33ZM616.12 131.99H622.02V137.87H616.12ZM639.70 131.99H645.60V137.87H639.70ZM533.58 137.87H539.47V143.75H533.58ZM557.16 137.87H563.06V143.75H557.16ZM586.64 137.87H592.54V143.75H586.64ZM651.50 137.87H657.39V143.75H651.50ZM669.18 137.87H675.08V143.75H669.18ZM539.47 143.75H545.37V149.64H539.47ZM557.16 143.75H563.06V149.64H557.16ZM574.85 143.75H580.74V149.64H574.85ZM586.64 143.75H598.43V149.64H586.64ZM610.22 143.75H616.12V149.64H610.22ZM657.39 143.75H675.08V149.64H657.39ZM539.47 149.64H545.37V155.52H539.47ZM563.06 149.64H568.95V155.52H563.06ZM586.64 149.64H592.54V155.52H586.64Z"/>
<path fill="#676767" d="M433.34 67.27H439.24V73.16H433.34ZM445.14 67.27H451.03V73.16H445.14ZM474.62 90.80H486.41V96.69H474.62ZM480.51 96.69H486.41V102.57H480.51ZM492.30 120.22H498.20V126.10H492.30ZM592.54 137.87H604.33V143.75H592.54ZM598.43 143.75H604.33V149.64H598.43ZM616.12 143.75H622.02V149.64H616.12ZM645.60 143.75H657.39V149.64H645.60ZM592.54 149.64H604.33V155.52H592.54Z"/>
<path fill="#383838" d="M604.33 143.75H610.22V149.64H604.33Z"/>
<path fill="#050505" d="M474.62 84.92H480.51V90.80H474.62Z"/>
<line x1="421.55" y1="8.44" x2="421.55" y2="155.52" stroke="#fff" stroke-opacity="0.85" stroke-width="0.8"/>
<line x1="633.81" y1="8.44" x2="633.81" y2="155.52" stroke="#fff" stroke-opacity="0.85" stroke-width="0.8"/>
<line x1="380.28" y1="137.87" x2="675.08" y2="137.87" stroke="#fff" stroke-opacity="0.85" stroke-width="0.8"/>
<line x1="380.28" y1="26.09" x2="675.08" y2="26.09" stroke="#fff" stroke-opacity="0.85" stroke-width="0.8"/>
<circle cx="439.77" cy="11.53" r="1.70" fill="#0b5a0b"/>
<circle cx="399.29" cy="36.53" r="1.70" fill="#0b5a0b"/>
<circle cx="434.82" cy="42.24" r="1.70" fill="#0b5a0b"/>
<circle cx="442.25" cy="41.09" r="1.70" fill="#0b5a0b"/>
<circle cx="447.17" cy="43.74" r="1.70" fill="#0b5a0b"/>
<circle cx="452.30" cy="43.18" r="1.70" fill="#0b5a0b"/>
<circle cx="450.59" cy="47.15" r="1.70" fill="#0b5a0b"/>
<circle cx="452.51" cy="48.09" r="1.70" fill="#0b5a0b"/>
<circle cx="458.58" cy="46.59" r="1.70" fill="#0b5a0b"/>
<circle cx="456.66" cy="50.74" r="1.70" fill="#0b5a0b"/>
<circle cx="387.33" cy="48.09" r="1.70" fill="#0b5a0b"/>
<circle cx="392.10" cy="50.00" r="1.70" fill="#0b5a0b"/>
<circle cx="408.23" cy="45.65" r="1.70" fill="#0b5a0b"/>
<circle cx="413.95" cy="50.00" r="1.70" fill="#0b5a0b"/>
<circle cx="421.73" cy="63.27" r="1.70" fill="#0b5a0b"/>
<circle cx="434.08" cy="63.27" r="1.70" fill="#0b5a0b"/>
<circle cx="471.49" cy="59.86" r="1.70" fill="#0b5a0b"/>
<circle cx="475.29" cy="64.39" r="1.70" fill="#0b5a0b"/>
<circle cx="399.29" cy="73.51" r="1.70" fill="#0b5a0b"/>
<circle cx="389.80" cy="79.36" r="1.70" fill="#0b5a0b"/>
<circle cx="396.08" cy="80.13" r="1.70" fill="#0b5a0b"/>
<circle cx="426.27" cy="76.54" r="1.70" fill="#0b5a0b"/>
<circle cx="439.56" cy="80.51" r="1.70" fill="#0b5a0b"/>
<circle cx="481.31" cy="11.53" r="1.70" fill="#0b5a0b"/>
<circle cx="483.02" cy="13.41" r="1.70" fill="#0b5a0b"/>
<circle cx="482.63" cy="17.59" r="1.70" fill="#0b5a0b"/>
<circle cx="504.48" cy="8.29" r="1.70" fill="#0b5a0b"/>
<circle cx="509.79" cy="8.29" r="1.70" fill="#0b5a0b"/>
<circle cx="516.24" cy="14.94" r="1.70" fill="#0b5a0b"/>
<circle cx="522.14" cy="17.21" r="1.70" fill="#0b5a0b"/>
<circle cx="523.85" cy="16.44" r="1.70" fill="#0b5a0b"/>
<circle cx="527.44" cy="17.21" r="1.70" fill="#0b5a0b"/>
<circle cx="527.27" cy="21.56" r="1.70" fill="#0b5a0b"/>
<circle cx="531.07" cy="22.50" r="1.70" fill="#0b5a0b"/>
<circle cx="533.34" cy="24.80" r="1.70" fill="#0b5a0b"/>
<circle cx="498.38" cy="20.62" r="1.70" fill="#0b5a0b"/>
<circle cx="496.49" cy="23.47" r="1.70" fill="#0b5a0b"/>
<circle cx="490.59" cy="29.53" r="1.70" fill="#0b5a0b"/>
<circle cx="497.26" cy="31.41" r="1.70" fill="#0b5a0b"/>
<circle cx="483.58" cy="30.47" r="1.70" fill="#0b5a0b"/>
<circle cx="507.90" cy="30.85" r="1.70" fill="#0b5a0b"/>
<circle cx="519.28" cy="36.53" r="1.70" fill="#0b5a0b"/>
<circle cx="522.52" cy="40.53" r="1.70" fill="#0b5a0b"/>
<circle cx="510.73" cy="40.53" r="1.70" fill="#0b5a0b"/>
<circle cx="501.62" cy="44.89" r="1.70" fill="#0b5a0b"/>
<circle cx="520.22" cy="47.15" r="1.70" fill="#0b5a0b"/>
<circle cx="523.85" cy="46.00" r="1.70" fill="#0b5a0b"/>
<circle cx="482.04" cy="38.62" r="1.70" fill="#0b5a0b"/>
<circle cx="492.69" cy="54.15" r="1.70" fill="#0b5a0b"/>
<circle cx="562.58" cy="17.76" r="1.70" fill="#0b5a0b"/>
<circle cx="554.04" cy="53.21" r="1.70" fill="#0b5a0b"/>
<circle cx="563.56" cy="61.18" r="1.70" fill="#0b5a0b"/>
<circle cx="552.91" cy="64.39" r="1.70" fill="#0b5a0b"/>
<circle cx="573.23" cy="68.39" r="1.70" fill="#0b5a0b"/>
<circle cx="486.05" cy="70.65" r="1.70" fill="#0b5a0b"/>
<circle cx="606.60" cy="9.06" r="1.70" fill="#0b5a0b"/>
<circle cx="612.67" cy="10.00" r="1.70" fill="#0b5a0b"/>
<circle cx="609.84" cy="13.41" r="1.70" fill="#0b5a0b"/>
<circle cx="608.69" cy="17.21" r="1.70" fill="#0b5a0b"/>
<circle cx="615.35" cy="18.53" r="1.70" fill="#0b5a0b"/>
<circle cx="617.24" cy="19.09" r="1.70" fill="#0b5a0b"/>
<circle cx="613.05" cy="22.50" r="1.70" fill="#0b5a0b"/>
<circle cx="605.48" cy="24.21" r="1.70" fill="#0b5a0b"/>
<circle cx="594.07" cy="24.80" r="1.70" fill="#0b5a0b"/>
<circle cx="616.47" cy="25.74" r="1.70" fill="#0b5a0b"/>
<circle cx="615.35" cy="27.24" r="1.70" fill="#0b5a0b"/>
<circle cx="617.62" cy="35.41" r="1.70" fill="#0b5a0b"/>
<circle cx="629.98" cy="34.83" r="1.70" fill="#0b5a0b"/>
<circle cx="643.45" cy="19.09" r="1.70" fill="#0b5a0b"/>
<circle cx="653.15" cy="30.47" r="1.70" fill="#0b5a0b"/>
<circle cx="655.42" cy="32.00" r="1.70" fill="#0b5a0b"/>
<circle cx="657.72" cy="39.94" r="1.70" fill="#0b5a0b"/>
<circle cx="655.24" cy="47.15" r="1.70" fill="#0b5a0b"/>
<circle cx="660.55" cy="48.86" r="1.70" fill="#0b5a0b"/>
<circle cx="635.87" cy="53.80" r="1.70" fill="#0b5a0b"/>
<circle cx="654.47" cy="74.63" r="1.70" fill="#0b5a0b"/>
<circle cx="664.91" cy="74.07" r="1.70" fill="#0b5a0b"/>
<circle cx="645.36" cy="79.36" r="1.70" fill="#0b5a0b"/>
<circle cx="387.33" cy="86.33" r="1.70" fill="#0b5a0b"/>
<circle cx="409.35" cy="86.33" r="1.70" fill="#0b5a0b"/>
<circle cx="440.30" cy="88.28" r="1.70" fill="#0b5a0b"/>
<circle cx="441.45" cy="96.42" r="1.70" fill="#0b5a0b"/>
<circle cx="449.65" cy="101.28" r="1.70" fill="#0b5a0b"/>
<circle cx="445.76" cy="104.78" r="1.70" fill="#0b5a0b"/>
<circle cx="470.46" cy="95.45" r="1.70" fill="#0b5a0b"/>
<circle cx="394.55" cy="99.34" r="1.70" fill="#0b5a0b"/>
<circle cx="391.81" cy="103.22" r="1.70" fill="#0b5a0b"/>
<circle cx="388.71" cy="106.54" r="1.70" fill="#0b5a0b"/>
<circle cx="391.81" cy="106.13" r="1.70" fill="#0b5a0b"/>
<circle cx="404.87" cy="98.95" r="1.70" fill="#0b5a0b"/>
<circle cx="407.40" cy="97.78" r="1.70" fill="#0b5a0b"/>
<circle cx="420.05" cy="101.28" r="1.70" fill="#0b5a0b"/>
<circle cx="430.16" cy="101.28" r="1.70" fill="#0b5a0b"/>
<circle cx="410.32" cy="106.72" r="1.70" fill="#0b5a0b"/>
<circle cx="416.16" cy="109.63" r="1.70" fill="#0b5a0b"/>
<circle cx="404.48" cy="113.34" r="1.70" fill="#0b5a0b"/>
<circle cx="409.14" cy="115.87" r="1.70" fill="#0b5a0b"/>
<circle cx="411.29" cy="114.48" r="1.70" fill="#0b5a0b"/>
<circle cx="413.03" cy="112.96" r="1.70" fill="#0b5a0b"/>
<circle cx="424.71" cy="113.34" r="1.70" fill="#0b5a0b"/>
<circle cx="449.23" cy="120.13" r="1.70" fill="#0b5a0b"/>
<circle cx="458.79" cy="124.22" r="1.70" fill="#0b5a0b"/>
<circle cx="458.02" cy="126.16" r="1.70" fill="#0b5a0b"/>
<circle cx="464.24" cy="127.52" r="1.70" fill="#0b5a0b"/>
<circle cx="398.62" cy="127.52" r="1.70" fill="#0b5a0b"/>
<circle cx="403.89" cy="130.43" r="1.70" fill="#0b5a0b"/>
<circle cx="390.24" cy="131.99" r="1.70" fill="#0b5a0b"/>
<circle cx="393.19" cy="133.34" r="1.70" fill="#0b5a0b"/>
<circle cx="397.08" cy="132.96" r="1.70" fill="#0b5a0b"/>
<circle cx="401.36" cy="133.55" r="1.70" fill="#0b5a0b"/>
<circle cx="408.17" cy="139.55" r="1.70" fill="#0b5a0b"/>
<circle cx="398.62" cy="143.05" r="1.70" fill="#0b5a0b"/>
<circle cx="428.21" cy="134.31" r="1.70" fill="#0b5a0b"/>
<circle cx="441.83" cy="136.25" r="1.70" fill="#0b5a0b"/>
<circle cx="450.03" cy="131.78" r="1.70" fill="#0b5a0b"/>
<circle cx="451.59" cy="134.31" r="1.70" fill="#0b5a0b"/>
<circle cx="454.51" cy="135.28" r="1.70" fill="#0b5a0b"/>
<circle cx="457.61" cy="134.90" r="1.70" fill="#0b5a0b"/>
<circle cx="460.35" cy="131.99" r="1.70" fill="#0b5a0b"/>
<circle cx="440.86" cy="141.49" r="1.70" fill="#0b5a0b"/>
<circle cx="437.94" cy="143.64" r="1.70" fill="#0b5a0b"/>
<circle cx="453.15" cy="143.43" r="1.70" fill="#0b5a0b"/>
<circle cx="458.02" cy="141.49" r="1.70" fill="#0b5a0b"/>
<circle cx="460.94" cy="140.52" r="1.70" fill="#0b5a0b"/>
<circle cx="465.80" cy="143.64" r="1.70" fill="#0b5a0b"/>
<circle cx="472.99" cy="145.37" r="1.70" fill="#0b5a0b"/>
<circle cx="450.03" cy="146.34" r="1.70" fill="#0b5a0b"/>
<circle cx="425.89" cy="147.52" r="1.70" fill="#0b5a0b"/>
<circle cx="431.52" cy="150.43" r="1.70" fill="#0b5a0b"/>
<circle cx="453.54" cy="150.23" r="1.70" fill="#0b5a0b"/>
<circle cx="457.43" cy="149.46" r="1.70" fill="#0b5a0b"/>
<circle cx="467.16" cy="148.28" r="1.70" fill="#0b5a0b"/>
<circle cx="468.51" cy="149.84" r="1.70" fill="#0b5a0b"/>
<circle cx="482.19" cy="139.55" r="1.70" fill="#0b5a0b"/>
<circle cx="541.18" cy="148.28" r="1.70" fill="#0b5a0b"/>
<circle cx="564.18" cy="136.25" r="1.70" fill="#0b5a0b"/>
<circle cx="582.07" cy="141.69" r="1.70" fill="#0b5a0b"/>
<circle cx="664.08" cy="89.25" r="1.70" fill="#0b5a0b"/>
<circle cx="618.54" cy="125.75" r="1.70" fill="#0b5a0b"/>
<circle cx="622.81" cy="124.60" r="1.70" fill="#0b5a0b"/>
<circle cx="633.93" cy="125.19" r="1.70" fill="#0b5a0b"/>
<circle cx="647.55" cy="123.25" r="1.70" fill="#0b5a0b"/>
<circle cx="651.64" cy="124.60" r="1.70" fill="#0b5a0b"/>
<circle cx="633.51" cy="135.66" r="1.70" fill="#0b5a0b"/>
<circle cx="644.80" cy="133.93" r="1.70" fill="#0b5a0b"/>
<circle cx="641.33" cy="142.08" r="1.70" fill="#0b5a0b"/>
<circle cx="610.75" cy="141.11" r="1.70" fill="#0b5a0b"/>
<circle cx="411.26" cy="9.23" r="4.93" fill="none" stroke="#f23636" stroke-width="1.00"/>
<circle cx="452.51" cy="10.94" r="4.17" fill="none" stroke="#f23636" stroke-width="1.00"/>
<circle cx="405.57" cy="27.06" r="3.79" fill="none" stroke="#f23636" stroke-width="1.00"/>
<circle cx="457.05" cy="29.33" r="5.12" fill="none" stroke="#f23636" stroke-width="1.00"/>
<circle cx="403.48" cy="47.53" r="4.74" fill="none" stroke="#f23636" stroke-width="1.00"/>
<circle cx="413.56" cy="59.65" r="3.79" fill="none" stroke="#f23636" stroke-width="1.00"/>
<circle cx="439.00" cy="74.27" r="5.31" fill="none" stroke="#f23636" stroke-width="1.00"/>
<circle cx="501.24" cy="25.74" r="2.27" fill="none" stroke="#f23636" stroke-width="1.00"/>
<circle cx="504.48" cy="31.80" r="1.90" fill="none" stroke="#f23636" stroke-width="1.00"/>
<circle cx="501.80" cy="35.77" r="1.90" fill="none" stroke="#f23636" stroke-width="1.00"/>
<circle cx="512.06" cy="36.74" r="2.46" fill="none" stroke="#f23636" stroke-width="1.00"/>
<circle cx="497.64" cy="40.53" r="2.27" fill="none" stroke="#f23636" stroke-width="1.00"/>
<circle cx="486.41" cy="39.00" r="2.09" fill="none" stroke="#f23636" stroke-width="1.00"/>
<circle cx="510.35" cy="47.53" r="4.17" fill="none" stroke="#f23636" stroke-width="1.00"/>
<circle cx="529.74" cy="24.21" r="1.90" fill="none" stroke="#f23636" stroke-width="1.00"/>
<circle cx="550.06" cy="25.74" r="4.36" fill="none" stroke="#f23636" stroke-width="1.00"/>
<circle cx="570.01" cy="35.77" r="4.74" fill="none" stroke="#f23636" stroke-width="1.00"/>
<circle cx="539.41" cy="49.03" r="4.93" fill="none" stroke="#f23636" stroke-width="1.00"/>
<circle cx="527.27" cy="66.10" r="4.36" fill="none" stroke="#f23636" stroke-width="1.00"/>
<circle cx="536.76" cy="72.57" r="4.74" fill="none" stroke="#f23636" stroke-width="1.00"/>
<circle cx="578.56" cy="72.74" r="5.12" fill="none" stroke="#f23636" stroke-width="1.00"/>
<circle cx="489.65" cy="74.45" r="3.22" fill="none" stroke="#f23636" stroke-width="1.00"/>
<circle cx="582.37" cy="10.56" r="4.17" fill="none" stroke="#f23636" stroke-width="1.00"/>
<circle cx="666.27" cy="8.85" r="4.55" fill="none" stroke="#f23636" stroke-width="1.00"/>
<circle cx="646.87" cy="17.59" r="4.74" fill="none" stroke="#f23636" stroke-width="1.00"/>
<circle cx="637.20" cy="41.27" r="3.79" fill="none" stroke="#f23636" stroke-width="1.00"/>
<circle cx="602.06" cy="56.62" r="5.12" fill="none" stroke="#f23636" stroke-width="1.00"/>
<circle cx="627.88" cy="57.21" r="4.55" fill="none" stroke="#f23636" stroke-width="1.00"/>
<circle cx="654.47" cy="60.24" r="4.93" fill="none" stroke="#f23636" stroke-width="1.00"/>
<circle cx="613.64" cy="68.39" r="4.55" fill="none" stroke="#f23636" stroke-width="1.00"/>
<circle cx="624.85" cy="74.63" r="4.93" fill="none" stroke="#f23636" stroke-width="1.00"/>
<circle cx="461.32" cy="91.19" r="4.27" fill="none" stroke="#f23636" stroke-width="1.00"/>
<circle cx="454.30" cy="108.66" r="4.27" fill="none" stroke="#f23636" stroke-width="1.00"/>
<circle cx="468.51" cy="106.13" r="4.66" fill="none" stroke="#f23636" stroke-width="1.00"/>
<circle cx="474.35" cy="104.60" r="3.89" fill="none" stroke="#f23636" stroke-width="1.00"/>
<circle cx="477.86" cy="122.07" r="2.72" fill="none" stroke="#f23636" stroke-width="1.00"/>
<circle cx="394.17" cy="99.72" r="1.94" fill="none" stroke="#f23636" stroke-width="1.00"/>
<circle cx="420.43" cy="134.31" r="5.83" fill="none" stroke="#f23636" stroke-width="1.00"/>
<circle cx="428.42" cy="128.66" r="1.94" fill="none" stroke="#f23636" stroke-width="1.00"/>
<circle cx="402.33" cy="150.23" r="5.44" fill="none" stroke="#f23636" stroke-width="1.00"/>
<circle cx="443.22" cy="148.87" r="1.94" fill="none" stroke="#f23636" stroke-width="1.00"/>
<circle cx="522.11" cy="86.72" r="4.66" fill="none" stroke="#f23636" stroke-width="1.00"/>
<circle cx="531.84" cy="89.04" r="3.89" fill="none" stroke="#f23636" stroke-width="1.00"/>
<circle cx="571.96" cy="85.75" r="4.66" fill="none" stroke="#f23636" stroke-width="1.00"/>
<circle cx="571.75" cy="99.92" r="3.89" fill="none" stroke="#f23636" stroke-width="1.00"/>
<circle cx="503.80" cy="100.89" r="4.66" fill="none" stroke="#f23636" stroke-width="1.00"/>
<circle cx="511.79" cy="106.54" r="3.50" fill="none" stroke="#f23636" stroke-width="1.00"/>
<circle cx="530.10" cy="103.22" r="3.89" fill="none" stroke="#f23636" stroke-width="1.00"/>
<circle cx="533.02" cy="108.48" r="3.89" fill="none" stroke="#f23636" stroke-width="1.00"/>
<circle cx="488.24" cy="121.10" r="4.27" fill="none" stroke="#f23636" stroke-width="1.00"/>
<circle cx="506.16" cy="121.28" r="4.27" fill="none" stroke="#f23636" stroke-width="1.00"/>
<circle cx="523.29" cy="121.28" r="3.30" fill="none" stroke="#f23636" stroke-width="1.00"/>
<circle cx="532.43" cy="125.96" r="3.50" fill="none" stroke="#f23636" stroke-width="1.00"/>
<circle cx="537.29" cy="131.99" r="4.27" fill="none" stroke="#f23636" stroke-width="1.00"/>
<circle cx="500.88" cy="131.40" r="4.27" fill="none" stroke="#f23636" stroke-width="1.00"/>
<circle cx="516.48" cy="136.63" r="4.27" fill="none" stroke="#f23636" stroke-width="1.00"/>
<circle cx="549.55" cy="123.63" r="3.89" fill="none" stroke="#f23636" stroke-width="1.00"/>
<circle cx="557.75" cy="124.99" r="5.83" fill="none" stroke="#f23636" stroke-width="1.00"/>
<circle cx="563.59" cy="120.31" r="4.27" fill="none" stroke="#f23636" stroke-width="1.00"/>
<circle cx="578.18" cy="120.31" r="3.89" fill="none" stroke="#f23636" stroke-width="1.00"/>
<circle cx="563.20" cy="138.78" r="2.91" fill="none" stroke="#f23636" stroke-width="1.00"/>
<circle cx="506.16" cy="145.58" r="3.89" fill="none" stroke="#f23636" stroke-width="1.00"/>
<circle cx="526.97" cy="143.64" r="4.66" fill="none" stroke="#f23636" stroke-width="1.00"/>
<circle cx="516.27" cy="150.23" r="4.27" fill="none" stroke="#f23636" stroke-width="1.00"/>
<circle cx="614.44" cy="90.98" r="5.25" fill="none" stroke="#f23636" stroke-width="1.00"/>
<circle cx="601.41" cy="100.31" r="4.47" fill="none" stroke="#f23636" stroke-width="1.00"/>
<circle cx="603.36" cy="107.69" r="3.89" fill="none" stroke="#f23636" stroke-width="1.00"/>
<circle cx="643.65" cy="89.04" r="4.47" fill="none" stroke="#f23636" stroke-width="1.00"/>
<circle cx="654.56" cy="86.72" r="4.47" fill="none" stroke="#f23636" stroke-width="1.00"/>
<circle cx="655.12" cy="97.98" r="3.11" fill="none" stroke="#f23636" stroke-width="1.00"/>
<circle cx="651.44" cy="108.07" r="4.27" fill="none" stroke="#f23636" stroke-width="1.00"/>
<circle cx="663.11" cy="113.93" r="4.47" fill="none" stroke="#f23636" stroke-width="1.00"/>
<circle cx="595.57" cy="127.52" r="3.30" fill="none" stroke="#f23636" stroke-width="1.00"/>
<circle cx="587.76" cy="131.40" r="4.27" fill="none" stroke="#f23636" stroke-width="1.00"/>
<circle cx="594.60" cy="136.25" r="4.27" fill="none" stroke="#f23636" stroke-width="1.00"/>
<circle cx="606.66" cy="134.31" r="3.89" fill="none" stroke="#f23636" stroke-width="1.00"/>
<circle cx="641.71" cy="147.90" r="5.05" fill="none" stroke="#f23636" stroke-width="1.00"/>
<circle cx="665.65" cy="142.67" r="4.27" fill="none" stroke="#f23636" stroke-width="1.00"/>
<circle cx="657.48" cy="154.70" r="4.27" fill="none" stroke="#f23636" stroke-width="1.00"/>
<circle cx="602.77" cy="154.70" r="3.89" fill="none" stroke="#f23636" stroke-width="1.00"/>
<rect x="372.10" y="1.52" width="311.29" height="161.04" fill="none" stroke="#555" stroke-width="1"/>
<line x1="380.28" y1="162.56" x2="380.28" y2="168.36" stroke="#555" stroke-width="1"/>
<text x="380.28" y="179.16" text-anchor="middle">0</text>
<line x1="439.24" y1="162.56" x2="439.24" y2="168.36" stroke="#555" stroke-width="1"/>
<text x="439.24" y="179.16" text-anchor="middle">20</text>
<line x1="498.20" y1="162.56" x2="498.20" y2="168.36" stroke="#555" stroke-width="1"/>
<text x="498.20" y="179.16" text-anchor="middle">40</text>
<line x1="557.16" y1="162.56" x2="557.16" y2="168.36" stroke="#555" stroke-width="1"/>
<text x="557.16" y="179.16" text-anchor="middle">60</text>
<line x1="616.12" y1="162.56" x2="616.12" y2="168.36" stroke="#555" stroke-width="1"/>
<text x="616.12" y="179.16" text-anchor="middle">80</text>
<line x1="675.08" y1="162.56" x2="675.08" y2="168.36" stroke="#555" stroke-width="1"/>
<text x="675.08" y="179.16" text-anchor="middle">100</text>
<line x1="372.10" y1="155.52" x2="366.30" y2="155.52" stroke="#555" stroke-width="1"/>
<text transform="translate(362.00 155.52) rotate(-90)" text-anchor="middle">0</text>
<line x1="372.10" y1="126.10" x2="366.30" y2="126.10" stroke="#555" stroke-width="1"/>
<text transform="translate(362.00 126.10) rotate(-90)" text-anchor="middle">10</text>
<line x1="372.10" y1="96.69" x2="366.30" y2="96.69" stroke="#555" stroke-width="1"/>
<text transform="translate(362.00 96.69) rotate(-90)" text-anchor="middle">20</text>
<line x1="372.10" y1="67.27" x2="366.30" y2="67.27" stroke="#555" stroke-width="1"/>
<text transform="translate(362.00 67.27) rotate(-90)" text-anchor="middle">30</text>
<line x1="372.10" y1="37.86" x2="366.30" y2="37.86" stroke="#555" stroke-width="1"/>
<text transform="translate(362.00 37.86) rotate(-90)" text-anchor="middle">40</text>
<line x1="372.10" y1="8.44" x2="366.30" y2="8.44" stroke="#555" stroke-width="1"/>
<text transform="translate(362.00 8.44) rotate(-90)" text-anchor="middle">50</text>
<path fill="#c3c3c3" d="M42.95 203.49H54.73V209.40H42.95ZM60.62 203.49H72.39V209.40H60.62ZM84.17 203.49H90.06V209.40H84.17ZM95.95 203.49H101.84V209.40H95.95ZM113.62 203.49H137.17V209.40H113.62ZM143.06 203.49H166.62V209.40H143.06ZM178.40 203.49H184.29V209.40H178.40ZM243.18 203.49H272.63V209.40H243.18ZM278.52 203.49H284.40V209.40H278.52ZM290.29 203.49H296.18V209.40H290.29ZM37.06 209.40H42.95V215.30H37.06ZM72.39 209.40H78.28V215.30H72.39ZM84.17 209.40H107.73V215.30H84.17ZM119.51 209.40H131.29V215.30H119.51ZM154.84 209.40H166.62V215.30H154.84ZM172.51 209.40H184.29V215.30H172.51ZM190.18 209.40H196.07V215.30H190.18ZM237.29 209.40H249.07V215.30H237.29ZM260.85 209.40H278.52V215.30H260.85ZM284.40 209.40H290.29V215.30H284.40ZM72.39 215.30H131.29V221.21H72.39ZM166.62 215.30H190.18V221.21H166.62ZM196.07 215.30H213.73V221.21H196.07ZM231.40 215.30H237.29V221.21H231.40ZM243.18 215.30H254.96V221.21H243.18ZM278.52 215.30H290.29V221.21H278.52ZM31.17 221.21H48.84V227.11H31.17ZM101.84 221.21H113.62V227.11H101.84ZM119.51 221.21H125.40V227.11H119.51ZM137.17 221.21H143.06V227.11H137.17ZM166.62 221.21H172.51V227.11H166.62ZM184.29 221.21H207.85V227.11H184.29ZM225.51 221.21H231.40V227.11H225.51ZM237.29 221.21H254.96V227.11H237.29ZM266.74 221.21H302.07V227.11H266.74ZM25.28 227.11H48.84V233.02H25.28ZM60.62 227.11H72.39V233.02H60.62ZM119.51 227.11H125.40V233.02H119.51ZM131.29 227.11H137.17V233.02H131.29ZM148.95 227.11H160.73V233.02H148.95ZM184.29 227.11H190.18V233.02H184.29ZM196.07 227.11H213.73V233.02H196.07ZM219.62 227.11H225.51V233.02H219.62ZM237.29 227.11H249.07V233.02H237.29ZM254.96 227.11H278.52V233.02H254.96ZM284.40 227.11H296.18V233.02H284.40ZM307.96 227.11H313.85V233.02H307.96ZM25.28 233.02H31.17V238.93H25.28ZM42.95 233.02H90.06V238.93H42.95ZM148.95 233.02H160.73V238.93H148.95ZM196.07 233.02H219.62V238.93H196.07ZM260.85 233.02H319.74V238.93H260.85ZM48.84 238.93H60.62V244.83H48.84ZM66.50 238.93H78.28V244.83H66.50ZM84.17 238.93H90.06V244.83H84.17ZM101.84 238.93H107.73V244.83H101.84ZM160.73 238.93H166.62V244.83H160.73ZM196.07 238.93H225.51V244.83H196.07ZM237.29 238.93H254.96V244.83H237.29ZM260.85 238.93H266.74V244.83H260.85ZM272.63 238.93H278.52V244.83H272.63ZM284.40 238.93H290.29V244.83H284.40ZM296.18 238.93H313.85V244.83H296.18ZM48.84 244.83H72.39V250.74H48.84ZM90.06 244.83H119.51V250.74H90.06ZM178.40 244.83H196.07V250.74H178.40ZM207.85 244.83H213.73V250.74H207.85ZM225.51 244.83H231.40V250.74H225.51ZM237.29 244.83H260.85V250.74H237.29ZM272.63 244.83H278.52V250.74H272.63ZM284.40 244.83H290.29V250.74H284.40ZM296.18 244.83H307.96V250.74H296.18ZM37.06 250.74H48.84V256.64H37.06ZM60.62 250.74H78.28V256.64H60.62ZM90.06 250.74H95.95V256.64H90.06ZM119.51 250.74H131.29V256.64H119.51ZM196.07 250.74H207.85V256.64H196.07ZM237.29 250.74H254.96V256.64H237.29ZM278.52 250.74H284.40V256.64H278.52ZM307.96 250.74H313.85V256.64H307.96ZM60.62 256.64H66.50V262.55H60.62ZM72.39 256.64H84.17V262.55H72.39ZM95.95 256.64H131.29V262.55H95.95ZM184.29 256.64H213.73V262.55H184.29ZM231.40 256.64H237.29V262.55H231.40ZM260.85 256.64H272.63V262.55H260.85ZM307.96 256.64H313.85V262.55H307.96ZM31.17 262.55H37.06V268.46H31.17ZM72.39 262.55H78.28V268.46H72.39ZM95.95 262.55H101.84V268.46H95.95ZM113.62 262.55H119.51V268.46H113.62ZM201.96 262.55H213.73V268.46H201.96ZM231.40 262.55H237.29V268.46H231.40ZM254.96 262.55H266.74V268.46H254.96ZM278.52 262.55H313.85V268.46H278.52ZM37.06 268.46H42.95V274.36H37.06ZM66.50 268.46H72.39V274.36H66.50ZM90.06 268.46H95.95V274.36H90.06ZM190.18 268.46H201.96V274.36H190.18ZM207.85 268.46H219.62V274.36H207.85ZM278.52 268.46H284.40V274.36H278.52ZM290.29 268.46H319.74V274.36H290.29ZM31.17 274.36H37.06V280.27H31.17ZM60.62 274.36H78.28V280.27H60.62ZM84.17 274.36H95.95V280.27H84.17ZM101.84 274.36H125.40V280.27H101.84ZM154.84 274.36H160.73V280.27H154.84ZM172.51 274.36H178.40V280.27H172.51ZM190.18 274.36H213.73V280.27H190.18ZM284.40 274.36H302.07V280.27H284.40ZM307.96 274.36H319.74V280.27H307.96ZM48.84 280.27H54.73V286.17H48.84ZM84.17 280.27H119.51V286.17H84.17ZM125.40 280.27H137.17V286.17H125.40ZM148.95 280.27H154.84V286.17H148.95ZM178.40 280.27H184.29V286.17H178.40ZM290.29 280.27H319.74V286.17H290.29ZM72.39 286.17H113.62V292.08H72.39ZM137.17 286.17H143.06V292.08H137.17ZM302.07 286.17H319.74V292.08H302.07ZM60.62 292.08H72.39V297.99H60.62ZM78.28 292.08H90.06V297.99H78.28ZM101.84 292.08H107.73V297.99H101.84ZM131.29 292.08H137.17V297.99H131.29ZM160.73 292.08H166.62V297.99H160.73ZM254.96 292.08H278.52V297.99H254.96ZM307.96 292.08H319.74V297.99H307.96ZM78.28 297.99H95.95V303.89H78.28ZM137.17 297.99H143.06V303.89H137.17ZM154.84 297.99H160.73V303.89H154.84ZM178.40 297.99H184.29V303.89H178.40ZM249.07 297.99H254.96V303.89H249.07ZM272.63 297.99H278.52V303.89H272.63ZM284.40 297.99H307.96V303.89H284.40ZM25.28 303.89H31.17V309.80H25.28ZM42.95 303.89H48.84V309.80H42.95ZM60.62 303.89H66.50V309.80H60.62ZM84.17 303.89H90.06V309.80H84.17ZM95.95 303.89H113.62V309.80H95.95ZM119.51 303.89H148.95V309.80H119.51ZM184.29 303.89H190.18V309.80H184.29ZM231.40 303.89H237.29V309.80H231.40ZM249.07 303.89H266.74V309.80H249.07ZM272.63 303.89H290.29V309.80H272.63ZM296.18 303.89H319.74V309.80H296.18ZM54.73 309.80H60.62V315.70H54.73ZM90.06 309.80H95.95V315.70H90.06ZM101.84 309.80H119.51V315.70H101.84ZM125.40 309.80H137.17V315.70H125.40ZM143.06 309.80H148.95V315.70H143.06ZM201.96 309.80H213.73V315.70H201.96ZM225.51 309.80H231.40V315.70H225.51ZM237.29 309.80H249.07V315.70H237.29ZM254.96 309.80H319.74V315.70H254.96ZM48.84 315.70H54.73V321.61H48.84ZM72.39 315.70H113.62V321.61H72.39ZM154.84 315.70H160.73V321.61H154.84ZM166.62 315.70H178.40V321.61H166.62ZM201.96 315.70H249.07V321.61H201.96ZM254.96 315.70H266.74V321.61H254.96ZM284.40 315.70H302.07V321.61H284.40ZM313.85 315.70H319.74V321.61H313.85ZM37.06 321.61H48.84V327.52H37.06ZM84.17 321.61H95.95V327.52H84.17ZM101.84 321.61H119.51V327.52H101.84ZM125.40 321.61H143.06V327.52H125.40ZM154.84 321.61H166.62V327.52H154.84ZM201.96 321.61H207.85V327.52H201.96ZM213.73 321.61H219.62V327.52H213.73ZM231.40 321.61H249.07V327.52H231.40ZM254.96 321.61H260.85V327.52H254.96ZM272.63 321.61H302.07V327.52H272.63ZM37.06 327.52H42.95V333.42H37.06ZM78.28 327.52H95.95V333.42H78.28ZM113.62 327.52H131.29V333.42H113.62ZM148.95 327.52H166.62V333.42H148.95ZM190.18 327.52H196.07V333.42H190.18ZM201.96 327.52H207.85V333.42H201.96ZM213.73 327.52H237.29V333.42H213.73ZM243.18 327.52H249.07V333.42H243.18ZM254.96 327.52H260.85V333.42H254.96ZM266.74 327.52H284.40V333.42H266.74ZM290.29 327.52H319.74V333.42H290.29ZM54.73 333.42H60.62V339.33H54.73ZM119.51 333.42H131.29V339.33H119.51ZM143.06 333.42H178.40V339.33H143.06ZM184.29 333.42H201.96V339.33H184.29ZM207.85 333.42H231.40V339.33H207.85ZM249.07 333.42H296.18V339.33H249.07ZM302.07 333.42H313.85V339.33H302.07ZM31.17 339.33H37.06V345.23H31.17ZM48.84 339.33H54.73V345.23H48.84ZM143.06 339.33H184.29V345.23H143.06ZM190.18 339.33H201.96V345.23H190.18ZM207.85 339.33H219.62V345.23H207.85ZM266.74 339.33H278.52V345.23H266.74ZM284.40 339.33H290.29V345.23H284.40ZM54.73 345.23H60.62V351.14H54.73ZM66.50 345.23H72.39V351.14H66.50ZM78.28 345.23H84.17V351.14H78.28ZM90.06 345.23H107.73V351.14H90.06ZM119.51 345.23H125.40V351.14H119.51ZM143.06 345.23H184.29V351.14H143.06ZM190.18 345.23H196.07V351.14H190.18ZM201.96 345.23H207.85V351.14H201.96ZM213.73 345.23H225.51V351.14H213.73ZM254.96 345.23H266.74V351.14H254.96ZM272.63 345.23H278.52V351.14H272.63ZM290.29 345.23H313.85V351.14H290.29Z"/>
<path fill="#8f8f8f" d="M107.73 203.49H113.62V209.40H107.73ZM166.62 203.49H172.51V209.40H166.62ZM107.73 209.40H119.51V215.30H107.73ZM237.29 215.30H243.18V221.21H237.29ZM254.96 215.30H260.85V221.21H254.96ZM48.84 227.11H54.73V233.02H48.84ZM78.28 238.93H84.17V244.83H78.28ZM95.95 238.93H101.84V244.83H95.95ZM95.95 250.74H119.51V256.64H95.95ZM72.39 268.46H84.17V274.36H72.39ZM201.96 268.46H207.85V274.36H201.96ZM78.28 274.36H84.17V280.27H78.28ZM72.39 280.27H84.17V286.17H72.39ZM113.62 286.17H119.51V292.08H113.62ZM90.06 292.08H101.84V297.99H90.06ZM119.51 292.08H125.40V297.99H119.51ZM278.52 292.08H284.40V297.99H278.52ZM131.29 297.99H137.17V303.89H131.29ZM254.96 297.99H272.63V303.89H254.96ZM278.52 297.99H284.40V303.89H278.52ZM219.62 303.89H231.40V309.80H219.62ZM290.29 303.89H296.18V309.80H290.29ZM119.51 309.80H125.40V315.70H119.51ZM137.17 309.80H143.06V315.70H137.17ZM231.40 309.80H237.29V315.70H231.40ZM249.07 309.80H254.96V315.70H249.07ZM119.51 315.70H137.17V321.61H119.51ZM249.07 315.70H254.96V321.61H249.07ZM302.07 315.70H313.85V321.61H302.07ZM119.51 321.61H125.40V327.52H119.51ZM207.85 321.61H213.73V327.52H207.85ZM225.51 321.61H231.40V327.52H225.51ZM249.07 321.61H254.96V327.52H249.07ZM260.85 321.61H266.74V327.52H260.85ZM302.07 321.61H319.74V327.52H302.07ZM178.40 327.52H184.29V333.42H178.40ZM207.85 327.52H213.73V333.42H207.85ZM237.29 327.52H243.18V333.42H237.29ZM249.07 327.52H254.96V333.42H249.07ZM260.85 327.52H266.74V333.42H260.85ZM284.40 327.52H290.29V333.42H284.40ZM178.40 333.42H184.29V339.33H178.40ZM201.96 333.42H207.85V339.33H201.96ZM231.40 333.42H237.29V339.33H231.40ZM296.18 333.42H302.07V339.33H296.18ZM313.85 333.42H319.74V339.33H313.85ZM184.29 339.33H190.18V345.23H184.29ZM201.96 339.33H207.85V345.23H201.96ZM219.62 339.33H225.51V345.23H219.62ZM231.40 339.33H243.18V345.23H231.40ZM254.96 339.33H260.85V345.23H254.96ZM302.07 339.33H319.74V345.23H302.07ZM184.29 345.23H190.18V351.14H184.29ZM207.85 345.23H213.73V351.14H207.85ZM231.40 345.23H237.29V351.14H231.40Z"/>
<path fill="#676767" d="M78.28 262.55H84.17V268.46H78.28ZM90.06 262.55H95.95V268.46H90.06ZM119.51 286.17H131.29V292.08H119.51ZM125.40 292.08H131.29V297.99H125.40ZM137.17 315.70H143.06V321.61H137.17ZM237.29 333.42H249.07V339.33H237.29ZM243.18 339.33H249.07V345.23H243.18ZM260.85 339.33H266.74V345.23H260.85ZM290.29 339.33H302.07V345.23H290.29ZM237.29 345.23H249.07V351.14H237.29Z"/>
<path fill="#383838" d="M249.07 339.33H254.96V345.23H249.07Z"/>
<path fill="#050505" d="M119.51 280.27H125.40V286.17H119.51Z"/>
<line x1="66.50" y1="203.49" x2="66.50" y2="351.14" stroke="#fff" stroke-opacity="0.85" stroke-width="0.8"/>
<line x1="278.52" y1="203.49" x2="278.52" y2="351.14" stroke="#fff" stroke-opacity="0.85" stroke-width="0.8"/>
<line x1="25.28" y1="333.42" x2="319.74" y2="333.42" stroke="#fff" stroke-opacity="0.85" stroke-width="0.8"/>
<line x1="25.28" y1="221.21" x2="319.74" y2="221.21" stroke="#fff" stroke-opacity="0.85" stroke-width="0.8"/>
<circle cx="84.70" cy="206.59" r="1.70" fill="#0b5a0b"/>
<circle cx="44.27" cy="231.69" r="1.70" fill="#0b5a0b"/>
<circle cx="79.76" cy="237.42" r="1.70" fill="#0b5a0b"/>
<circle cx="87.18" cy="236.27" r="1.70" fill="#0b5a0b"/>
<circle cx="92.09" cy="238.93" r="1.70" fill="#0b5a0b"/>
<circle cx="97.22" cy="238.36" r="1.70" fill="#0b5a0b"/>
<circle cx="95.51" cy="242.35" r="1.70" fill="#0b5a0b"/>
<circle cx="97.42" cy="243.30" r="1.70" fill="#0b5a0b"/>
<circle cx="103.49" cy="241.79" r="1.70" fill="#0b5a0b"/>
<circle cx="101.57" cy="245.95" r="1.70" fill="#0b5a0b"/>
<circle cx="32.32" cy="243.30" r="1.70" fill="#0b5a0b"/>
<circle cx="37.09" cy="245.22" r="1.70" fill="#0b5a0b"/>
<circle cx="53.19" cy="240.85" r="1.70" fill="#0b5a0b"/>
<circle cx="58.91" cy="245.22" r="1.70" fill="#0b5a0b"/>
<circle cx="66.68" cy="258.53" r="1.70" fill="#0b5a0b"/>
<circle cx="79.02" cy="258.53" r="1.70" fill="#0b5a0b"/>
<circle cx="116.39" cy="255.11" r="1.70" fill="#0b5a0b"/>
<circle cx="120.18" cy="259.66" r="1.70" fill="#0b5a0b"/>
<circle cx="44.27" cy="268.81" r="1.70" fill="#0b5a0b"/>
<circle cx="34.79" cy="274.69" r="1.70" fill="#0b5a0b"/>
<circle cx="41.06" cy="275.45" r="1.70" fill="#0b5a0b"/>
<circle cx="71.22" cy="271.85" r="1.70" fill="#0b5a0b"/>
<circle cx="84.50" cy="275.84" r="1.70" fill="#0b5a0b"/>
<circle cx="126.19" cy="206.59" r="1.70" fill="#0b5a0b"/>
<circle cx="127.90" cy="208.48" r="1.70" fill="#0b5a0b"/>
<circle cx="127.52" cy="212.67" r="1.70" fill="#0b5a0b"/>
<circle cx="149.34" cy="203.34" r="1.70" fill="#0b5a0b"/>
<circle cx="154.64" cy="203.34" r="1.70" fill="#0b5a0b"/>
<circle cx="161.08" cy="210.02" r="1.70" fill="#0b5a0b"/>
<circle cx="166.97" cy="212.29" r="1.70" fill="#0b5a0b"/>
<circle cx="168.68" cy="211.52" r="1.70" fill="#0b5a0b"/>
<circle cx="172.27" cy="212.29" r="1.70" fill="#0b5a0b"/>
<circle cx="172.10" cy="216.66" r="1.70" fill="#0b5a0b"/>
<circle cx="175.90" cy="217.61" r="1.70" fill="#0b5a0b"/>
<circle cx="178.16" cy="219.91" r="1.70" fill="#0b5a0b"/>
<circle cx="143.24" cy="215.72" r="1.70" fill="#0b5a0b"/>
<circle cx="141.36" cy="218.58" r="1.70" fill="#0b5a0b"/>
<circle cx="135.47" cy="224.66" r="1.70" fill="#0b5a0b"/>
<circle cx="142.12" cy="226.55" r="1.70" fill="#0b5a0b"/>
<circle cx="128.46" cy="225.61" r="1.70" fill="#0b5a0b"/>
<circle cx="152.75" cy="225.99" r="1.70" fill="#0b5a0b"/>
<circle cx="164.12" cy="231.69" r="1.70" fill="#0b5a0b"/>
<circle cx="167.36" cy="235.71" r="1.70" fill="#0b5a0b"/>
<circle cx="155.58" cy="235.71" r="1.70" fill="#0b5a0b"/>
<circle cx="146.48" cy="240.08" r="1.70" fill="#0b5a0b"/>
<circle cx="165.06" cy="242.35" r="1.70" fill="#0b5a0b"/>
<circle cx="168.68" cy="241.20" r="1.70" fill="#0b5a0b"/>
<circle cx="126.93" cy="233.79" r="1.70" fill="#0b5a0b"/>
<circle cx="137.56" cy="249.38" r="1.70" fill="#0b5a0b"/>
<circle cx="207.37" cy="212.85" r="1.70" fill="#0b5a0b"/>
<circle cx="198.83" cy="248.43" r="1.70" fill="#0b5a0b"/>
<circle cx="208.35" cy="256.44" r="1.70" fill="#0b5a0b"/>
<circle cx="197.72" cy="259.66" r="1.70" fill="#0b5a0b"/>
<circle cx="218.00" cy="263.67" r="1.70" fill="#0b5a0b"/>
<circle cx="130.93" cy="265.95" r="1.70" fill="#0b5a0b"/>
<circle cx="251.34" cy="204.11" r="1.70" fill="#0b5a0b"/>
<circle cx="257.40" cy="205.06" r="1.70" fill="#0b5a0b"/>
<circle cx="254.58" cy="208.48" r="1.70" fill="#0b5a0b"/>
<circle cx="253.43" cy="212.29" r="1.70" fill="#0b5a0b"/>
<circle cx="260.08" cy="213.62" r="1.70" fill="#0b5a0b"/>
<circle cx="261.97" cy="214.18" r="1.70" fill="#0b5a0b"/>
<circle cx="257.79" cy="217.61" r="1.70" fill="#0b5a0b"/>
<circle cx="250.22" cy="219.32" r="1.70" fill="#0b5a0b"/>
<circle cx="238.82" cy="219.91" r="1.70" fill="#0b5a0b"/>
<circle cx="261.20" cy="220.85" r="1.70" fill="#0b5a0b"/>
<circle cx="260.08" cy="222.36" r="1.70" fill="#0b5a0b"/>
<circle cx="262.35" cy="230.57" r="1.70" fill="#0b5a0b"/>
<circle cx="274.69" cy="229.98" r="1.70" fill="#0b5a0b"/>
<circle cx="288.14" cy="214.18" r="1.70" fill="#0b5a0b"/>
<circle cx="297.83" cy="225.61" r="1.70" fill="#0b5a0b"/>
<circle cx="300.10" cy="227.14" r="1.70" fill="#0b5a0b"/>
<circle cx="302.40" cy="235.12" r="1.70" fill="#0b5a0b"/>
<circle cx="299.92" cy="242.35" r="1.70" fill="#0b5a0b"/>
<circle cx="305.22" cy="244.06" r="1.70" fill="#0b5a0b"/>
<circle cx="280.58" cy="249.03" r="1.70" fill="#0b5a0b"/>
<circle cx="299.16" cy="269.93" r="1.70" fill="#0b5a0b"/>
<circle cx="309.58" cy="269.37" r="1.70" fill="#0b5a0b"/>
<circle cx="290.06" cy="274.69" r="1.70" fill="#0b5a0b"/>
<circle cx="32.32" cy="281.69" r="1.70" fill="#0b5a0b"/>
<circle cx="54.31" cy="281.69" r="1.70" fill="#0b5a0b"/>
<circle cx="85.23" cy="283.63" r="1.70" fill="#0b5a0b"/>
<circle cx="86.38" cy="291.81" r="1.70" fill="#0b5a0b"/>
<circle cx="94.57" cy="296.69" r="1.70" fill="#0b5a0b"/>
<circle cx="90.68" cy="300.20" r="1.70" fill="#0b5a0b"/>
<circle cx="115.36" cy="290.84" r="1.70" fill="#0b5a0b"/>
<circle cx="39.53" cy="294.74" r="1.70" fill="#0b5a0b"/>
<circle cx="36.79" cy="298.64" r="1.70" fill="#0b5a0b"/>
<circle cx="33.70" cy="301.97" r="1.70" fill="#0b5a0b"/>
<circle cx="36.79" cy="301.56" r="1.70" fill="#0b5a0b"/>
<circle cx="49.84" cy="294.35" r="1.70" fill="#0b5a0b"/>
<circle cx="52.37" cy="293.17" r="1.70" fill="#0b5a0b"/>
<circle cx="65.00" cy="296.69" r="1.70" fill="#0b5a0b"/>
<circle cx="75.10" cy="296.69" r="1.70" fill="#0b5a0b"/>
<circle cx="55.29" cy="302.15" r="1.70" fill="#0b5a0b"/>
<circle cx="61.12" cy="305.07" r="1.70" fill="#0b5a0b"/>
<circle cx="49.46" cy="308.79" r="1.70" fill="#0b5a0b"/>
<circle cx="54.11" cy="311.33" r="1.70" fill="#0b5a0b"/>
<circle cx="56.26" cy="309.95" r="1.70" fill="#0b5a0b"/>
<circle cx="57.99" cy="308.41" r="1.70" fill="#0b5a0b"/>
<circle cx="69.66" cy="308.79" r="1.70" fill="#0b5a0b"/>
<circle cx="94.15" cy="315.62" r="1.70" fill="#0b5a0b"/>
<circle cx="103.69" cy="319.72" r="1.70" fill="#0b5a0b"/>
<circle cx="102.93" cy="321.67" r="1.70" fill="#0b5a0b"/>
<circle cx="109.14" cy="323.03" r="1.70" fill="#0b5a0b"/>
<circle cx="43.60" cy="323.03" r="1.70" fill="#0b5a0b"/>
<circle cx="48.87" cy="325.95" r="1.70" fill="#0b5a0b"/>
<circle cx="35.23" cy="327.52" r="1.70" fill="#0b5a0b"/>
<circle cx="38.18" cy="328.87" r="1.70" fill="#0b5a0b"/>
<circle cx="42.06" cy="328.49" r="1.70" fill="#0b5a0b"/>
<circle cx="46.33" cy="329.08" r="1.70" fill="#0b5a0b"/>
<circle cx="53.14" cy="335.11" r="1.70" fill="#0b5a0b"/>
<circle cx="43.60" cy="338.62" r="1.70" fill="#0b5a0b"/>
<circle cx="73.16" cy="329.85" r="1.70" fill="#0b5a0b"/>
<circle cx="86.76" cy="331.80" r="1.70" fill="#0b5a0b"/>
<circle cx="94.95" cy="327.31" r="1.70" fill="#0b5a0b"/>
<circle cx="96.51" cy="329.85" r="1.70" fill="#0b5a0b"/>
<circle cx="99.43" cy="330.82" r="1.70" fill="#0b5a0b"/>
<circle cx="102.52" cy="330.44" r="1.70" fill="#0b5a0b"/>
<circle cx="105.26" cy="327.52" r="1.70" fill="#0b5a0b"/>
<circle cx="85.79" cy="337.05" r="1.70" fill="#0b5a0b"/>
<circle cx="82.88" cy="339.21" r="1.70" fill="#0b5a0b"/>
<circle cx="98.07" cy="339.00" r="1.70" fill="#0b5a0b"/>
<circle cx="102.93" cy="337.05" r="1.70" fill="#0b5a0b"/>
<circle cx="105.84" cy="336.08" r="1.70" fill="#0b5a0b"/>
<circle cx="110.70" cy="339.21" r="1.70" fill="#0b5a0b"/>
<circle cx="117.89" cy="340.95" r="1.70" fill="#0b5a0b"/>
<circle cx="94.95" cy="341.93" r="1.70" fill="#0b5a0b"/>
<circle cx="70.83" cy="343.11" r="1.70" fill="#0b5a0b"/>
<circle cx="76.46" cy="346.03" r="1.70" fill="#0b5a0b"/>
<circle cx="98.45" cy="345.82" r="1.70" fill="#0b5a0b"/>
<circle cx="102.34" cy="345.06" r="1.70" fill="#0b5a0b"/>
<circle cx="112.06" cy="343.88" r="1.70" fill="#0b5a0b"/>
<circle cx="113.41" cy="345.44" r="1.70" fill="#0b5a0b"/>
<circle cx="127.07" cy="335.11" r="1.70" fill="#0b5a0b"/>
<circle cx="186.00" cy="343.88" r="1.70" fill="#0b5a0b"/>
<circle cx="208.96" cy="331.80" r="1.70" fill="#0b5a0b"/>
<circle cx="226.84" cy="337.26" r="1.70" fill="#0b5a0b"/>
<circle cx="308.76" cy="284.61" r="1.70" fill="#0b5a0b"/>
<circle cx="263.26" cy="321.26" r="1.70" fill="#0b5a0b"/>
<circle cx="267.53" cy="320.10" r="1.70" fill="#0b5a0b"/>
<circle cx="278.63" cy="320.69" r="1.70" fill="#0b5a0b"/>
<circle cx="292.24" cy="318.75" r="1.70" fill="#0b5a0b"/>
<circle cx="296.33" cy="320.10" r="1.70" fill="#0b5a0b"/>
<circle cx="278.22" cy="331.21" r="1.70" fill="#0b5a0b"/>
<circle cx="289.50" cy="329.46" r="1.70" fill="#0b5a0b"/>
<circle cx="286.02" cy="337.64" r="1.70" fill="#0b5a0b"/>
<circle cx="255.49" cy="336.67" r="1.70" fill="#0b5a0b"/>
<circle cx="56.23" cy="204.29" r="4.93" fill="none" stroke="#f23636" stroke-width="1.00"/>
<circle cx="97.42" cy="206.00" r="4.17" fill="none" stroke="#f23636" stroke-width="1.00"/>
<circle cx="50.54" cy="222.18" r="3.79" fill="none" stroke="#f23636" stroke-width="1.00"/>
<circle cx="101.96" cy="224.46" r="5.12" fill="none" stroke="#f23636" stroke-width="1.00"/>
<circle cx="48.45" cy="242.74" r="4.74" fill="none" stroke="#f23636" stroke-width="1.00"/>
<circle cx="58.52" cy="254.90" r="3.79" fill="none" stroke="#f23636" stroke-width="1.00"/>
<circle cx="83.94" cy="269.58" r="5.31" fill="none" stroke="#f23636" stroke-width="1.00"/>
<circle cx="146.10" cy="220.85" r="2.27" fill="none" stroke="#f23636" stroke-width="1.00"/>
<circle cx="149.34" cy="226.94" r="1.90" fill="none" stroke="#f23636" stroke-width="1.00"/>
<circle cx="146.66" cy="230.92" r="1.90" fill="none" stroke="#f23636" stroke-width="1.00"/>
<circle cx="156.90" cy="231.90" r="2.46" fill="none" stroke="#f23636" stroke-width="1.00"/>
<circle cx="142.50" cy="235.71" r="2.27" fill="none" stroke="#f23636" stroke-width="1.00"/>
<circle cx="131.29" cy="234.17" r="2.09" fill="none" stroke="#f23636" stroke-width="1.00"/>
<circle cx="155.20" cy="242.74" r="4.17" fill="none" stroke="#f23636" stroke-width="1.00"/>
<circle cx="174.57" cy="219.32" r="1.90" fill="none" stroke="#f23636" stroke-width="1.00"/>
<circle cx="194.86" cy="220.85" r="4.36" fill="none" stroke="#f23636" stroke-width="1.00"/>
<circle cx="214.79" cy="230.92" r="4.74" fill="none" stroke="#f23636" stroke-width="1.00"/>
<circle cx="184.23" cy="244.24" r="4.93" fill="none" stroke="#f23636" stroke-width="1.00"/>
<circle cx="172.10" cy="261.37" r="4.36" fill="none" stroke="#f23636" stroke-width="1.00"/>
<circle cx="181.58" cy="267.87" r="4.74" fill="none" stroke="#f23636" stroke-width="1.00"/>
<circle cx="223.33" cy="268.04" r="5.12" fill="none" stroke="#f23636" stroke-width="1.00"/>
<circle cx="134.52" cy="269.76" r="3.22" fill="none" stroke="#f23636" stroke-width="1.00"/>
<circle cx="227.13" cy="205.62" r="4.17" fill="none" stroke="#f23636" stroke-width="1.00"/>
<circle cx="310.94" cy="203.90" r="4.55" fill="none" stroke="#f23636" stroke-width="1.00"/>
<circle cx="291.56" cy="212.67" r="4.74" fill="none" stroke="#f23636" stroke-width="1.00"/>
<circle cx="281.90" cy="236.45" r="3.79" fill="none" stroke="#f23636" stroke-width="1.00"/>
<circle cx="246.80" cy="251.86" r="5.12" fill="none" stroke="#f23636" stroke-width="1.00"/>
<circle cx="272.60" cy="252.45" r="4.55" fill="none" stroke="#f23636" stroke-width="1.00"/>
<circle cx="299.16" cy="255.49" r="4.93" fill="none" stroke="#f23636" stroke-width="1.00"/>
<circle cx="258.37" cy="263.67" r="4.55" fill="none" stroke="#f23636" stroke-width="1.00"/>
<circle cx="269.56" cy="269.93" r="4.93" fill="none" stroke="#f23636" stroke-width="1.00"/>
<circle cx="106.23" cy="286.56" r="4.27" fill="none" stroke="#f23636" stroke-width="1.00"/>
<circle cx="99.22" cy="304.10" r="4.27" fill="none" stroke="#f23636" stroke-width="1.00"/>
<circle cx="113.41" cy="301.56" r="4.66" fill="none" stroke="#f23636" stroke-width="1.00"/>
<circle cx="119.24" cy="300.02" r="3.89" fill="none" stroke="#f23636" stroke-width="1.00"/>
<circle cx="122.75" cy="317.56" r="2.72" fill="none" stroke="#f23636" stroke-width="1.00"/>
<circle cx="39.15" cy="295.12" r="1.94" fill="none" stroke="#f23636" stroke-width="1.00"/>
<circle cx="65.39" cy="329.85" r="5.83" fill="none" stroke="#f23636" stroke-width="1.00"/>
<circle cx="73.37" cy="324.18" r="1.94" fill="none" stroke="#f23636" stroke-width="1.00"/>
<circle cx="47.31" cy="345.82" r="5.44" fill="none" stroke="#f23636" stroke-width="1.00"/>
<circle cx="88.15" cy="344.47" r="1.94" fill="none" stroke="#f23636" stroke-width="1.00"/>
<circle cx="166.94" cy="282.07" r="4.66" fill="none" stroke="#f23636" stroke-width="1.00"/>
<circle cx="176.66" cy="284.40" r="3.89" fill="none" stroke="#f23636" stroke-width="1.00"/>
<circle cx="216.74" cy="281.09" r="4.66" fill="none" stroke="#f23636" stroke-width="1.00"/>
<circle cx="216.53" cy="295.33" r="3.89" fill="none" stroke="#f23636" stroke-width="1.00"/>
<circle cx="148.66" cy="296.30" r="4.66" fill="none" stroke="#f23636" stroke-width="1.00"/>
<circle cx="156.64" cy="301.97" r="3.50" fill="none" stroke="#f23636" stroke-width="1.00"/>
<circle cx="174.92" cy="298.64" r="3.89" fill="none" stroke="#f23636" stroke-width="1.00"/>
<circle cx="177.84" cy="303.92" r="3.89" fill="none" stroke="#f23636" stroke-width="1.00"/>
<circle cx="133.11" cy="316.59" r="4.27" fill="none" stroke="#f23636" stroke-width="1.00"/>
<circle cx="151.01" cy="316.77" r="4.27" fill="none" stroke="#f23636" stroke-width="1.00"/>
<circle cx="168.12" cy="316.77" r="3.30" fill="none" stroke="#f23636" stroke-width="1.00"/>
<circle cx="177.25" cy="321.46" r="3.50" fill="none" stroke="#f23636" stroke-width="1.00"/>
<circle cx="182.11" cy="327.52" r="4.27" fill="none" stroke="#f23636" stroke-width="1.00"/>
<circle cx="145.74" cy="326.93" r="4.27" fill="none" stroke="#f23636" stroke-width="1.00"/>
<circle cx="161.32" cy="332.18" r="4.27" fill="none" stroke="#f23636" stroke-width="1.00"/>
<circle cx="194.36" cy="319.13" r="3.89" fill="none" stroke="#f23636" stroke-width="1.00"/>
<circle cx="202.54" cy="320.49" r="5.83" fill="none" stroke="#f23636" stroke-width="1.00"/>
<circle cx="208.38" cy="315.79" r="4.27" fill="none" stroke="#f23636" stroke-width="1.00"/>
<circle cx="222.95" cy="315.79" r="3.89" fill="none" stroke="#f23636" stroke-width="1.00"/>
<circle cx="207.99" cy="334.34" r="2.91" fill="none" stroke="#f23636" stroke-width="1.00"/>
<circle cx="151.01" cy="341.16" r="3.89" fill="none" stroke="#f23636" stroke-width="1.00"/>
<circle cx="171.80" cy="339.21" r="4.66" fill="none" stroke="#f23636" stroke-width="1.00"/>
<circle cx="161.11" cy="345.82" r="4.27" fill="none" stroke="#f23636" stroke-width="1.00"/>
<circle cx="259.17" cy="286.35" r="5.25" fill="none" stroke="#f23636" stroke-width="1.00"/>
<circle cx="246.15" cy="295.71" r="4.47" fill="none" stroke="#f23636" stroke-width="1.00"/>
<circle cx="248.10" cy="303.12" r="3.89" fill="none" stroke="#f23636" stroke-width="1.00"/>
<circle cx="288.35" cy="284.40" r="4.47" fill="none" stroke="#f23636" stroke-width="1.00"/>
<circle cx="299.25" cy="282.07" r="4.47" fill="none" stroke="#f23636" stroke-width="1.00"/>
<circle cx="299.81" cy="293.38" r="3.11" fill="none" stroke="#f23636" stroke-width="1.00"/>
<circle cx="296.12" cy="303.51" r="4.27" fill="none" stroke="#f23636" stroke-width="1.00"/>
<circle cx="307.78" cy="309.38" r="4.47" fill="none" stroke="#f23636" stroke-width="1.00"/>
<circle cx="240.32" cy="323.03" r="3.30" fill="none" stroke="#f23636" stroke-width="1.00"/>
<circle cx="232.52" cy="326.93" r="4.27" fill="none" stroke="#f23636" stroke-width="1.00"/>
<circle cx="239.35" cy="331.80" r="4.27" fill="none" stroke="#f23636" stroke-width="1.00"/>
<circle cx="251.40" cy="329.85" r="3.89" fill="none" stroke="#f23636" stroke-width="1.00"/>
<circle cx="286.41" cy="343.49" r="5.05" fill="none" stroke="#f23636" stroke-width="1.00"/>
<circle cx="310.32" cy="338.24" r="4.27" fill="none" stroke="#f23636" stroke-width="1.00"/>
<circle cx="302.16" cy="350.31" r="4.27" fill="none" stroke="#f23636" stroke-width="1.00"/>
<circle cx="247.51" cy="350.31" r="3.89" fill="none" stroke="#f23636" stroke-width="1.00"/>
<rect x="16.94" y="196.50" width="311.56" height="161.75" fill="none" stroke="#555" stroke-width="1"/>
<line x1="25.28" y1="358.25" x2="25.28" y2="364.05" stroke="#555" stroke-width="1"/>
<text x="25.28" y="374.85" text-anchor="middle">0</text>
<line x1="84.17" y1="358.25" x2="84.17" y2="364.05" stroke="#555" stroke-width="1"/>
<text x="84.17" y="374.85" text-anchor="middle">20</text>
<line x1="143.06" y1="358.25" x2="143.06" y2="364.05" stroke="#555" stroke-width="1"/>
<text x="143.06" y="374.85" text-anchor="middle">40</text>
<line x1="201.96" y1="358.25" x2="201.96" y2="364.05" stroke="#555" stroke-width="1"/>
<text x="201.96" y="374.85" text-anchor="middle">60</text>
<line x1="260.85" y1="358.25" x2="260.85" y2="364.05" stroke="#555" stroke-width="1"/>
<text x="260.85" y="374.85" text-anchor="middle">80</text>
<line x1="319.74" y1="358.25" x2="319.74" y2="364.05" stroke="#555" stroke-width="1"/>
<text x="319.74" y="374.85" text-anchor="middle">100</text>
<line x1="16.94" y1="351.14" x2="11.14" y2="351.14" stroke="#555" stroke-width="1"/>
<text transform="translate(6.84 351.14) rotate(-90)" text-anchor="middle">0</text>
<line x1="16.94" y1="321.61" x2="11.14" y2="321.61" stroke="#555" stroke-width="1"/>
<text transform="translate(6.84 321.61) rotate(-90)" text-anchor="middle">10</text>
<line x1="16.94" y1="292.08" x2="11.14" y2="292.08" stroke="#555" stroke-width="1"/>
<text transform="translate(6.84 292.08) rotate(-90)" text-anchor="middle">20</text>
<line x1="16.94" y1="262.55" x2="11.14" y2="262.55" stroke="#555" stroke-width="1"/>
<text transform="translate(6.84 262.55) rotate(-90)" text-anchor="middle">30</text>
<line x1="16.94" y1="233.02" x2="11.14" y2="233.02" stroke="#555" stroke-width="1"/>
<text transform="translate(6.84 233.02) rotate(-90)" text-anchor="middle">40</text>
<line x1="16.94" y1="203.49" x2="11.14" y2="203.49" stroke="#555" stroke-width="1"/>
<text transform="translate(6.84 203.49) rotate(-90)" text-anchor="middle">50</text>
<path fill="#c3c3c3" d="M386.18 203.49H427.45V209.40H386.18ZM456.93 203.49H474.62V209.40H456.93ZM486.41 203.49H492.30V209.40H486.41ZM504.10 203.49H533.58V209.40H504.10ZM592.54 203.49H598.43V209.40H592.54ZM610.22 203.49H627.91V209.40H610.22ZM633.81 203.49H651.50V209.40H633.81ZM663.29 203.49H669.18V209.40H663.29ZM392.07 209.40H403.86V215.30H392.07ZM427.45 209.40H433.34V215.30H427.45ZM439.24 209.40H468.72V215.30H439.24ZM474.62 209.40H486.41V215.30H474.62ZM527.68 209.40H533.58V215.30H527.68ZM545.37 209.40H551.26V215.30H545.37ZM586.64 209.40H633.81V215.30H586.64ZM639.70 209.40H645.60V215.30H639.70ZM427.45 215.30H451.03V221.21H427.45ZM456.93 215.30H486.41V221.21H456.93ZM533.58 215.30H568.95V221.21H533.58ZM580.74 215.30H610.22V221.21H580.74ZM639.70 215.30H651.50V221.21H639.70ZM380.28 221.21H403.86V227.11H380.28ZM492.30 221.21H504.10V227.11H492.30ZM521.78 221.21H527.68V227.11H521.78ZM539.47 221.21H545.37V227.11H539.47ZM557.16 221.21H568.95V227.11H557.16ZM580.74 221.21H586.64V227.11H580.74ZM592.54 221.21H604.33V227.11H592.54ZM645.60 221.21H657.39V227.11H645.60ZM380.28 227.11H386.18V233.02H380.28ZM392.07 227.11H397.97V233.02H392.07ZM409.76 227.11H427.45V233.02H409.76ZM551.26 227.11H563.06V233.02H551.26ZM574.85 227.11H580.74V233.02H574.85ZM598.43 227.11H604.33V233.02H598.43ZM622.02 227.11H633.81V233.02H622.02ZM639.70 227.11H651.50V233.02H639.70ZM663.29 227.11H669.18V233.02H663.29ZM380.28 233.02H397.97V238.93H380.28ZM409.76 233.02H439.24V238.93H409.76ZM551.26 233.02H574.85V238.93H551.26ZM622.02 233.02H627.91V238.93H622.02ZM645.60 233.02H651.50V238.93H645.60ZM657.39 233.02H663.29V238.93H657.39ZM669.18 233.02H675.08V238.93H669.18ZM386.18 238.93H392.07V244.83H386.18ZM397.97 238.93H409.76V244.83H397.97ZM415.66 238.93H439.24V244.83H415.66ZM445.14 238.93H456.93V244.83H445.14ZM515.89 238.93H521.78V244.83H515.89ZM557.16 238.93H580.74V244.83H557.16ZM598.43 238.93H610.22V244.83H598.43ZM616.12 238.93H622.02V244.83H616.12ZM627.91 238.93H651.50V244.83H627.91ZM663.29 238.93H669.18V244.83H663.29ZM386.18 244.83H403.86V250.74H386.18ZM409.76 244.83H427.45V250.74H409.76ZM439.24 244.83H445.14V250.74H439.24ZM451.03 244.83H456.93V250.74H451.03ZM462.82 244.83H474.62V250.74H462.82ZM533.58 244.83H545.37V250.74H533.58ZM551.26 244.83H568.95V250.74H551.26ZM610.22 244.83H616.12V250.74H610.22ZM627.91 244.83H645.60V250.74H627.91ZM651.50 244.83H663.29V250.74H651.50ZM669.18 244.83H675.08V250.74H669.18ZM386.18 250.74H403.86V256.64H386.18ZM409.76 250.74H433.34V256.64H409.76ZM445.14 250.74H451.03V256.64H445.14ZM456.93 250.74H468.72V256.64H456.93ZM474.62 250.74H486.41V256.64H474.62ZM492.30 250.74H498.20V256.64H492.30ZM580.74 250.74H586.64V256.64H580.74ZM598.43 250.74H604.33V256.64H598.43ZM627.91 250.74H633.81V256.64H627.91ZM651.50 250.74H657.39V256.64H651.50ZM663.29 250.74H669.18V256.64H663.29ZM409.76 256.64H421.55V262.55H409.76ZM427.45 256.64H439.24V262.55H427.45ZM456.93 256.64H480.51V262.55H456.93ZM551.26 256.64H574.85V262.55H551.26ZM610.22 256.64H627.91V262.55H610.22ZM657.39 256.64H669.18V262.55H657.39ZM403.86 262.55H421.55V268.46H403.86ZM427.45 262.55H451.03V268.46H427.45ZM539.47 262.55H545.37V268.46H539.47ZM551.26 262.55H568.95V268.46H551.26ZM586.64 262.55H592.54V268.46H586.64ZM610.22 262.55H616.12V268.46H610.22ZM627.91 262.55H633.81V268.46H627.91ZM639.70 262.55H645.60V268.46H639.70ZM651.50 262.55H669.18V268.46H651.50ZM392.07 268.46H397.97V274.36H392.07ZM415.66 268.46H451.03V274.36H415.66ZM509.99 268.46H515.89V274.36H509.99ZM539.47 268.46H580.74V274.36H539.47ZM645.60 268.46H675.08V274.36H645.60ZM386.18 274.36H392.07V280.27H386.18ZM415.66 274.36H445.14V280.27H415.66ZM456.93 274.36H474.62V280.27H456.93ZM504.10 274.36H509.99V280.27H504.10ZM545.37 274.36H568.95V280.27H545.37ZM663.29 274.36H675.08V280.27H663.29ZM403.86 280.27H409.76V286.17H403.86ZM421.55 280.27H445.14V286.17H421.55ZM451.03 280.27H474.62V286.17H451.03ZM480.51 280.27H486.41V286.17H480.51ZM504.10 280.27H509.99V286.17H504.10ZM598.43 280.27H604.33V286.17H598.43ZM645.60 280.27H675.08V286.17H645.60ZM386.18 286.17H392.07V292.08H386.18ZM403.86 286.17H409.76V292.08H403.86ZM433.34 286.17H451.03V292.08H433.34ZM462.82 286.17H468.72V292.08H462.82ZM474.62 286.17H486.41V292.08H474.62ZM492.30 286.17H498.20V292.08H492.30ZM539.47 286.17H545.37V292.08H539.47ZM651.50 286.17H675.08V292.08H651.50ZM409.76 292.08H427.45V297.99H409.76ZM445.14 292.08H462.82V297.99H445.14ZM480.51 292.08H492.30V297.99H480.51ZM610.22 292.08H639.70V297.99H610.22ZM663.29 292.08H675.08V297.99H663.29ZM380.28 297.99H386.18V303.89H380.28ZM397.97 297.99H403.86V303.89H397.97ZM409.76 297.99H415.66V303.89H409.76ZM451.03 297.99H462.82V303.89H451.03ZM498.20 297.99H504.10V303.89H498.20ZM533.58 297.99H539.47V303.89H533.58ZM545.37 297.99H551.26V303.89H545.37ZM610.22 297.99H616.12V303.89H610.22ZM622.02 297.99H633.81V303.89H622.02ZM639.70 297.99H657.39V303.89H639.70ZM397.97 303.89H403.86V309.80H397.97ZM439.24 303.89H445.14V309.80H439.24ZM451.03 303.89H456.93V309.80H451.03ZM474.62 303.89H486.41V309.80H474.62ZM492.30 303.89H498.20V309.80H492.30ZM580.74 303.89H592.54V309.80H580.74ZM604.33 303.89H669.18V309.80H604.33ZM403.86 309.80H415.66V315.70H403.86ZM456.93 309.80H492.30V315.70H456.93ZM498.20 309.80H504.10V315.70H498.20ZM539.47 309.80H545.37V315.70H539.47ZM580.74 309.80H592.54V315.70H580.74ZM604.33 309.80H622.02V315.70H604.33ZM633.81 309.80H675.08V315.70H633.81ZM386.18 315.70H397.97V321.61H386.18ZM403.86 315.70H415.66V321.61H403.86ZM439.24 315.70H451.03V321.61H439.24ZM456.93 315.70H504.10V321.61H456.93ZM521.78 315.70H527.68V321.61H521.78ZM557.16 315.70H563.06V321.61H557.16ZM568.95 315.70H574.85V321.61H568.95ZM580.74 315.70H598.43V321.61H580.74ZM604.33 315.70H616.12V321.61H604.33ZM639.70 315.70H657.39V321.61H639.70ZM663.29 315.70H675.08V321.61H663.29ZM380.28 321.61H386.18V327.52H380.28ZM392.07 321.61H397.97V327.52H392.07ZM403.86 321.61H415.66V327.52H403.86ZM439.24 321.61H445.14V327.52H439.24ZM474.62 321.61H498.20V327.52H474.62ZM509.99 321.61H527.68V327.52H509.99ZM557.16 321.61H574.85V327.52H557.16ZM586.64 321.61H616.12V327.52H586.64ZM633.81 321.61H669.18V327.52H633.81ZM386.18 327.52H392.07V333.42H386.18ZM403.86 327.52H415.66V333.42H403.86ZM445.14 327.52H451.03V333.42H445.14ZM468.72 327.52H504.10V333.42H468.72ZM515.89 327.52H521.78V333.42H515.89ZM533.58 327.52H539.47V333.42H533.58ZM557.16 327.52H610.22V333.42H557.16ZM616.12 327.52H627.91V333.42H616.12ZM639.70 327.52H675.08V333.42H639.70ZM392.07 333.42H427.45V339.33H392.07ZM480.51 333.42H486.41V339.33H480.51ZM498.20 333.42H509.99V339.33H498.20ZM527.68 333.42H557.16V339.33H527.68ZM574.85 333.42H586.64V339.33H574.85ZM598.43 333.42H604.33V339.33H598.43ZM616.12 333.42H651.50V339.33H616.12ZM657.39 333.42H663.29V339.33H657.39ZM380.28 339.33H386.18V345.23H380.28ZM392.07 339.33H409.76V345.23H392.07ZM415.66 339.33H421.55V345.23H415.66ZM474.62 339.33H486.41V345.23H474.62ZM492.30 339.33H509.99V345.23H492.30ZM515.89 339.33H521.78V345.23H515.89ZM527.68 339.33H545.37V345.23H527.68ZM551.26 339.33H598.43V345.23H551.26ZM610.22 339.33H616.12V345.23H610.22ZM622.02 339.33H633.81V345.23H622.02ZM639.70 339.33H645.60V345.23H639.70ZM657.39 339.33H669.18V345.23H657.39ZM392.07 345.23H433.34V351.14H392.07ZM474.62 345.23H486.41V351.14H474.62ZM498.20 345.23H509.99V351.14H498.20ZM527.68 345.23H574.85V351.14H527.68ZM580.74 345.23H598.43V351.14H580.74ZM616.12 345.23H633.81V351.14H616.12ZM639.70 345.23H663.29V351.14H639.70Z"/>
<path fill="#8f8f8f" d="M545.37 221.21H551.26V227.11H545.37ZM386.18 227.11H392.07V233.02H386.18ZM397.97 227.11H409.76V233.02H397.97ZM397.97 233.02H409.76V238.93H397.97ZM409.76 238.93H415.66V244.83H409.76ZM403.86 244.83H409.76V250.74H403.86ZM456.93 244.83H462.82V250.74H456.93ZM474.62 280.27H480.51V286.17H474.62ZM468.72 286.17H474.62V292.08H468.72ZM474.62 292.08H480.51V297.99H474.62ZM474.62 297.99H480.51V303.89H474.62ZM492.30 297.99H498.20V303.89H492.30ZM616.12 297.99H622.02V303.89H616.12ZM574.85 303.89H580.74V309.80H574.85ZM492.30 309.80H498.20V315.70H492.30ZM415.66 315.70H421.55V321.61H415.66ZM563.06 315.70H568.95V321.61H563.06ZM598.43 315.70H604.33V321.61H598.43ZM657.39 315.70H663.29V321.61H657.39ZM580.74 321.61H586.64V327.52H580.74ZM557.16 333.42H574.85V339.33H557.16ZM586.64 333.42H598.43V339.33H586.64ZM651.50 333.42H657.39V339.33H651.50ZM669.18 333.42H675.08V339.33H669.18ZM598.43 339.33H610.22V345.23H598.43ZM616.12 339.33H622.02V345.23H616.12ZM645.60 339.33H657.39V345.23H645.60ZM669.18 339.33H675.08V345.23H669.18ZM574.85 345.23H580.74V351.14H574.85ZM598.43 345.23H604.33V351.14H598.43Z"/>
<path fill="#050505" d="M586.64 297.99H592.54V303.89H586.64ZM574.85 315.70H580.74V321.61H574.85Z"/>
<line x1="421.55" y1="203.49" x2="421.55" y2="351.14" stroke="#fff" stroke-opacity="0.85" stroke-width="0.8"/>
<line x1="633.81" y1="203.49" x2="633.81" y2="351.14" stroke="#fff" stroke-opacity="0.85" stroke-width="0.8"/>
<line x1="380.28" y1="333.42" x2="675.08" y2="333.42" stroke="#fff" stroke-opacity="0.85" stroke-width="0.8"/>
<line x1="380.28" y1="221.21" x2="675.08" y2="221.21" stroke="#fff" stroke-opacity="0.85" stroke-width="0.8"/>
<circle cx="394.19" cy="208.36" r="1.70" fill="#0b5a0b"/>
<circle cx="405.72" cy="208.36" r="1.70" fill="#0b5a0b"/>
<circle cx="411.41" cy="208.36" r="1.70" fill="#0b5a0b"/>
<circle cx="464.33" cy="208.36" r="1.70" fill="#0b5a0b"/>
<circle cx="452.56" cy="220.12" r="1.70" fill="#0b5a0b"/>
<circle cx="458.81" cy="220.12" r="1.70" fill="#0b5a0b"/>
<circle cx="470.19" cy="220.12" r="1.70" fill="#0b5a0b"/>
<circle cx="458.64" cy="225.81" r="1.70" fill="#0b5a0b"/>
<circle cx="464.50" cy="225.81" r="1.70" fill="#0b5a0b"/>
<circle cx="394.19" cy="225.43" r="1.70" fill="#0b5a0b"/>
<circle cx="399.88" cy="231.69" r="1.70" fill="#0b5a0b"/>
<circle cx="405.72" cy="231.69" r="1.70" fill="#0b5a0b"/>
<circle cx="417.48" cy="231.69" r="1.70" fill="#0b5a0b"/>
<circle cx="429.45" cy="237.39" r="1.70" fill="#0b5a0b"/>
<circle cx="382.43" cy="243.44" r="1.70" fill="#0b5a0b"/>
<circle cx="388.12" cy="243.44" r="1.70" fill="#0b5a0b"/>
<circle cx="423.17" cy="243.44" r="1.70" fill="#0b5a0b"/>
<circle cx="429.45" cy="243.44" r="1.70" fill="#0b5a0b"/>
<circle cx="434.94" cy="243.44" r="1.70" fill="#0b5a0b"/>
<circle cx="458.81" cy="242.12" r="1.70" fill="#0b5a0b"/>
<circle cx="452.56" cy="243.44" r="1.70" fill="#0b5a0b"/>
<circle cx="405.72" cy="249.14" r="1.70" fill="#0b5a0b"/>
<circle cx="464.33" cy="249.14" r="1.70" fill="#0b5a0b"/>
<circle cx="449.32" cy="253.87" r="1.70" fill="#0b5a0b"/>
<circle cx="458.81" cy="255.37" r="1.70" fill="#0b5a0b"/>
<circle cx="429.45" cy="255.37" r="1.70" fill="#0b5a0b"/>
<circle cx="429.45" cy="261.07" r="1.70" fill="#0b5a0b"/>
<circle cx="477.21" cy="257.65" r="1.70" fill="#0b5a0b"/>
<circle cx="480.07" cy="259.18" r="1.70" fill="#0b5a0b"/>
<circle cx="390.95" cy="267.51" r="1.70" fill="#0b5a0b"/>
<circle cx="399.50" cy="267.51" r="1.70" fill="#0b5a0b"/>
<circle cx="429.45" cy="267.51" r="1.70" fill="#0b5a0b"/>
<circle cx="435.14" cy="267.51" r="1.70" fill="#0b5a0b"/>
<circle cx="446.90" cy="267.13" r="1.70" fill="#0b5a0b"/>
<circle cx="394.19" cy="272.83" r="1.70" fill="#0b5a0b"/>
<circle cx="390.01" cy="275.10" r="1.70" fill="#0b5a0b"/>
<circle cx="396.29" cy="275.10" r="1.70" fill="#0b5a0b"/>
<circle cx="423.17" cy="272.83" r="1.70" fill="#0b5a0b"/>
<circle cx="426.98" cy="271.88" r="1.70" fill="#0b5a0b"/>
<circle cx="429.45" cy="272.83" r="1.70" fill="#0b5a0b"/>
<circle cx="489.30" cy="204.02" r="1.70" fill="#0b5a0b"/>
<circle cx="489.30" cy="205.91" r="1.70" fill="#0b5a0b"/>
<circle cx="500.65" cy="204.02" r="1.70" fill="#0b5a0b"/>
<circle cx="502.53" cy="204.94" r="1.70" fill="#0b5a0b"/>
<circle cx="516.77" cy="209.90" r="1.70" fill="#0b5a0b"/>
<circle cx="518.10" cy="208.36" r="1.70" fill="#0b5a0b"/>
<circle cx="519.99" cy="207.98" r="1.70" fill="#0b5a0b"/>
<circle cx="511.44" cy="213.68" r="1.70" fill="#0b5a0b"/>
<circle cx="522.08" cy="213.12" r="1.70" fill="#0b5a0b"/>
<circle cx="528.15" cy="212.17" r="1.70" fill="#0b5a0b"/>
<circle cx="530.04" cy="213.68" r="1.70" fill="#0b5a0b"/>
<circle cx="535.17" cy="213.68" r="1.70" fill="#0b5a0b"/>
<circle cx="531.37" cy="217.46" r="1.70" fill="#0b5a0b"/>
<circle cx="533.46" cy="220.12" r="1.70" fill="#0b5a0b"/>
<circle cx="498.73" cy="215.98" r="1.70" fill="#0b5a0b"/>
<circle cx="490.62" cy="224.49" r="1.70" fill="#0b5a0b"/>
<circle cx="483.96" cy="226.97" r="1.70" fill="#0b5a0b"/>
<circle cx="483.22" cy="211.23" r="1.70" fill="#0b5a0b"/>
<circle cx="505.36" cy="232.08" r="1.70" fill="#0b5a0b"/>
<circle cx="519.60" cy="231.69" r="1.70" fill="#0b5a0b"/>
<circle cx="505.95" cy="236.45" r="1.70" fill="#0b5a0b"/>
<circle cx="506.34" cy="238.72" r="1.70" fill="#0b5a0b"/>
<circle cx="494.37" cy="237.39" r="1.70" fill="#0b5a0b"/>
<circle cx="502.15" cy="240.23" r="1.70" fill="#0b5a0b"/>
<circle cx="513.91" cy="239.66" r="1.70" fill="#0b5a0b"/>
<circle cx="520.55" cy="242.50" r="1.70" fill="#0b5a0b"/>
<circle cx="523.79" cy="241.52" r="1.70" fill="#0b5a0b"/>
<circle cx="516.39" cy="244.77" r="1.70" fill="#0b5a0b"/>
<circle cx="546.69" cy="220.12" r="1.70" fill="#0b5a0b"/>
<circle cx="564.35" cy="220.12" r="1.70" fill="#0b5a0b"/>
<circle cx="547.08" cy="225.43" r="1.70" fill="#0b5a0b"/>
<circle cx="542.71" cy="227.35" r="1.70" fill="#0b5a0b"/>
<circle cx="552.97" cy="225.43" r="1.70" fill="#0b5a0b"/>
<circle cx="560.73" cy="233.96" r="1.70" fill="#0b5a0b"/>
<circle cx="564.35" cy="237.39" r="1.70" fill="#0b5a0b"/>
<circle cx="569.84" cy="235.85" r="1.70" fill="#0b5a0b"/>
<circle cx="558.84" cy="243.44" r="1.70" fill="#0b5a0b"/>
<circle cx="564.35" cy="243.44" r="1.70" fill="#0b5a0b"/>
<circle cx="571.37" cy="243.44" r="1.70" fill="#0b5a0b"/>
<circle cx="546.69" cy="249.14" r="1.70" fill="#0b5a0b"/>
<circle cx="552.97" cy="255.37" r="1.70" fill="#0b5a0b"/>
<circle cx="552.97" cy="260.13" r="1.70" fill="#0b5a0b"/>
<circle cx="563.59" cy="256.70" r="1.70" fill="#0b5a0b"/>
<circle cx="486.44" cy="266.21" r="1.70" fill="#0b5a0b"/>
<circle cx="487.76" cy="267.69" r="1.70" fill="#0b5a0b"/>
<circle cx="546.69" cy="272.83" r="1.70" fill="#0b5a0b"/>
<circle cx="558.84" cy="272.83" r="1.70" fill="#0b5a0b"/>
<circle cx="568.89" cy="272.83" r="1.70" fill="#0b5a0b"/>
<circle cx="606.27" cy="204.20" r="1.70" fill="#0b5a0b"/>
<circle cx="612.55" cy="205.53" r="1.70" fill="#0b5a0b"/>
<circle cx="605.71" cy="208.36" r="1.70" fill="#0b5a0b"/>
<circle cx="610.08" cy="208.75" r="1.70" fill="#0b5a0b"/>
<circle cx="617.65" cy="208.36" r="1.70" fill="#0b5a0b"/>
<circle cx="623.31" cy="208.36" r="1.70" fill="#0b5a0b"/>
<circle cx="635.28" cy="208.36" r="1.70" fill="#0b5a0b"/>
<circle cx="608.75" cy="212.56" r="1.70" fill="#0b5a0b"/>
<circle cx="614.82" cy="214.06" r="1.70" fill="#0b5a0b"/>
<circle cx="612.94" cy="215.98" r="1.70" fill="#0b5a0b"/>
<circle cx="611.96" cy="218.23" r="1.70" fill="#0b5a0b"/>
<circle cx="615.77" cy="220.71" r="1.70" fill="#0b5a0b"/>
<circle cx="614.82" cy="222.60" r="1.70" fill="#0b5a0b"/>
<circle cx="593.95" cy="220.12" r="1.70" fill="#0b5a0b"/>
<circle cx="643.62" cy="218.79" r="1.70" fill="#0b5a0b"/>
<circle cx="652.73" cy="224.49" r="1.70" fill="#0b5a0b"/>
<circle cx="646.66" cy="225.81" r="1.70" fill="#0b5a0b"/>
<circle cx="646.66" cy="231.69" r="1.70" fill="#0b5a0b"/>
<circle cx="629.98" cy="230.16" r="1.70" fill="#0b5a0b"/>
<circle cx="625.61" cy="237.39" r="1.70" fill="#0b5a0b"/>
<circle cx="657.48" cy="235.29" r="1.70" fill="#0b5a0b"/>
<circle cx="670.33" cy="237.39" r="1.70" fill="#0b5a0b"/>
<circle cx="599.64" cy="243.44" r="1.70" fill="#0b5a0b"/>
<circle cx="616.71" cy="242.85" r="1.70" fill="#0b5a0b"/>
<circle cx="628.65" cy="245.33" r="1.70" fill="#0b5a0b"/>
<circle cx="632.42" cy="244.39" r="1.70" fill="#0b5a0b"/>
<circle cx="635.28" cy="243.44" r="1.70" fill="#0b5a0b"/>
<circle cx="646.66" cy="243.44" r="1.70" fill="#0b5a0b"/>
<circle cx="652.73" cy="243.44" r="1.70" fill="#0b5a0b"/>
<circle cx="611.40" cy="249.14" r="1.70" fill="#0b5a0b"/>
<circle cx="652.73" cy="249.14" r="1.70" fill="#0b5a0b"/>
<circle cx="639.08" cy="255.37" r="1.70" fill="#0b5a0b"/>
<circle cx="664.50" cy="255.37" r="1.70" fill="#0b5a0b"/>
<circle cx="605.33" cy="255.37" r="1.70" fill="#0b5a0b"/>
<circle cx="587.88" cy="261.07" r="1.70" fill="#0b5a0b"/>
<circle cx="656.15" cy="263.73" r="1.70" fill="#0b5a0b"/>
<circle cx="658.42" cy="267.51" r="1.70" fill="#0b5a0b"/>
<circle cx="617.65" cy="267.13" r="1.70" fill="#0b5a0b"/>
<circle cx="654.06" cy="269.99" r="1.70" fill="#0b5a0b"/>
<circle cx="652.73" cy="272.83" r="1.70" fill="#0b5a0b"/>
<circle cx="635.28" cy="272.83" r="1.70" fill="#0b5a0b"/>
<circle cx="670.33" cy="272.83" r="1.70" fill="#0b5a0b"/>
<circle cx="392.40" cy="277.85" r="1.70" fill="#0b5a0b"/>
<circle cx="423.08" cy="279.38" r="1.70" fill="#0b5a0b"/>
<circle cx="435.14" cy="279.38" r="1.70" fill="#0b5a0b"/>
<circle cx="441.36" cy="279.38" r="1.70" fill="#0b5a0b"/>
<circle cx="446.82" cy="279.38" r="1.70" fill="#0b5a0b"/>
<circle cx="458.84" cy="279.38" r="1.70" fill="#0b5a0b"/>
<circle cx="471.08" cy="279.38" r="1.70" fill="#0b5a0b"/>
<circle cx="435.14" cy="285.20" r="1.70" fill="#0b5a0b"/>
<circle cx="441.36" cy="284.05" r="1.70" fill="#0b5a0b"/>
<circle cx="476.33" cy="284.64" r="1.70" fill="#0b5a0b"/>
<circle cx="405.99" cy="291.05" r="1.70" fill="#0b5a0b"/>
<circle cx="405.40" cy="294.32" r="1.70" fill="#0b5a0b"/>
<circle cx="395.31" cy="296.27" r="1.70" fill="#0b5a0b"/>
<circle cx="392.99" cy="298.22" r="1.70" fill="#0b5a0b"/>
<circle cx="389.09" cy="302.12" r="1.70" fill="#0b5a0b"/>
<circle cx="439.03" cy="297.84" r="1.70" fill="#0b5a0b"/>
<circle cx="442.92" cy="295.30" r="1.70" fill="#0b5a0b"/>
<circle cx="447.20" cy="291.40" r="1.70" fill="#0b5a0b"/>
<circle cx="452.24" cy="296.86" r="1.70" fill="#0b5a0b"/>
<circle cx="446.82" cy="302.50" r="1.70" fill="#0b5a0b"/>
<circle cx="458.84" cy="302.50" r="1.70" fill="#0b5a0b"/>
<circle cx="467.19" cy="304.42" r="1.70" fill="#0b5a0b"/>
<circle cx="416.69" cy="304.63" r="1.70" fill="#0b5a0b"/>
<circle cx="405.60" cy="308.53" r="1.70" fill="#0b5a0b"/>
<circle cx="409.29" cy="310.86" r="1.70" fill="#0b5a0b"/>
<circle cx="413.77" cy="309.89" r="1.70" fill="#0b5a0b"/>
<circle cx="452.62" cy="308.32" r="1.70" fill="#0b5a0b"/>
<circle cx="449.71" cy="315.73" r="1.70" fill="#0b5a0b"/>
<circle cx="453.21" cy="317.65" r="1.70" fill="#0b5a0b"/>
<circle cx="476.33" cy="313.78" r="1.70" fill="#0b5a0b"/>
<circle cx="476.33" cy="317.65" r="1.70" fill="#0b5a0b"/>
<circle cx="387.53" cy="320.19" r="1.70" fill="#0b5a0b"/>
<circle cx="399.21" cy="322.91" r="1.70" fill="#0b5a0b"/>
<circle cx="402.71" cy="322.91" r="1.70" fill="#0b5a0b"/>
<circle cx="397.26" cy="327.40" r="1.70" fill="#0b5a0b"/>
<circle cx="404.66" cy="326.01" r="1.70" fill="#0b5a0b"/>
<circle cx="429.31" cy="319.99" r="1.70" fill="#0b5a0b"/>
<circle cx="435.14" cy="317.65" r="1.70" fill="#0b5a0b"/>
<circle cx="435.14" cy="320.19" r="1.70" fill="#0b5a0b"/>
<circle cx="464.27" cy="323.09" r="1.70" fill="#0b5a0b"/>
<circle cx="460.41" cy="327.40" r="1.70" fill="#0b5a0b"/>
<circle cx="463.33" cy="328.73" r="1.70" fill="#0b5a0b"/>
<circle cx="450.68" cy="327.40" r="1.70" fill="#0b5a0b"/>
<circle cx="454.57" cy="330.68" r="1.70" fill="#0b5a0b"/>
<circle cx="397.26" cy="332.62" r="1.70" fill="#0b5a0b"/>
<circle cx="423.50" cy="326.01" r="1.70" fill="#0b5a0b"/>
<circle cx="476.33" cy="331.83" r="1.70" fill="#0b5a0b"/>
<circle cx="441.95" cy="332.62" r="1.70" fill="#0b5a0b"/>
<circle cx="461.38" cy="339.03" r="1.70" fill="#0b5a0b"/>
<circle cx="450.68" cy="341.93" r="1.70" fill="#0b5a0b"/>
<circle cx="473.02" cy="341.34" r="1.70" fill="#0b5a0b"/>
<circle cx="467.19" cy="344.26" r="1.70" fill="#0b5a0b"/>
<circle cx="468.57" cy="345.82" r="1.70" fill="#0b5a0b"/>
<circle cx="390.07" cy="341.54" r="1.70" fill="#0b5a0b"/>
<circle cx="392.40" cy="343.88" r="1.70" fill="#0b5a0b"/>
<circle cx="398.82" cy="343.88" r="1.70" fill="#0b5a0b"/>
<circle cx="406.58" cy="344.26" r="1.70" fill="#0b5a0b"/>
<circle cx="422.91" cy="345.82" r="1.70" fill="#0b5a0b"/>
<circle cx="426.00" cy="343.49" r="1.70" fill="#0b5a0b"/>
<circle cx="431.84" cy="345.82" r="1.70" fill="#0b5a0b"/>
<circle cx="454.19" cy="346.21" r="1.70" fill="#0b5a0b"/>
<circle cx="458.84" cy="346.21" r="1.70" fill="#0b5a0b"/>
<circle cx="482.43" cy="284.64" r="1.70" fill="#0b5a0b"/>
<circle cx="476.00" cy="290.87" r="1.70" fill="#0b5a0b"/>
<circle cx="482.43" cy="290.87" r="1.70" fill="#0b5a0b"/>
<circle cx="482.43" cy="296.27" r="1.70" fill="#0b5a0b"/>
<circle cx="506.10" cy="284.64" r="1.70" fill="#0b5a0b"/>
<circle cx="494.04" cy="308.32" r="1.70" fill="#0b5a0b"/>
<circle cx="499.70" cy="308.32" r="1.70" fill="#0b5a0b"/>
<circle cx="482.43" cy="313.78" r="1.70" fill="#0b5a0b"/>
<circle cx="494.04" cy="313.78" r="1.70" fill="#0b5a0b"/>
<circle cx="494.04" cy="320.19" r="1.70" fill="#0b5a0b"/>
<circle cx="506.10" cy="337.67" r="1.70" fill="#0b5a0b"/>
<circle cx="511.55" cy="337.67" r="1.70" fill="#0b5a0b"/>
<circle cx="529.45" cy="320.19" r="1.70" fill="#0b5a0b"/>
<circle cx="535.29" cy="320.19" r="1.70" fill="#0b5a0b"/>
<circle cx="535.29" cy="331.83" r="1.70" fill="#0b5a0b"/>
<circle cx="529.45" cy="343.88" r="1.70" fill="#0b5a0b"/>
<circle cx="541.48" cy="343.88" r="1.70" fill="#0b5a0b"/>
<circle cx="535.29" cy="337.67" r="1.70" fill="#0b5a0b"/>
<circle cx="553.12" cy="337.67" r="1.70" fill="#0b5a0b"/>
<circle cx="558.96" cy="337.67" r="1.70" fill="#0b5a0b"/>
<circle cx="565.00" cy="337.67" r="1.70" fill="#0b5a0b"/>
<circle cx="571.22" cy="337.67" r="1.70" fill="#0b5a0b"/>
<circle cx="577.03" cy="337.67" r="1.70" fill="#0b5a0b"/>
<circle cx="582.45" cy="337.67" r="1.70" fill="#0b5a0b"/>
<circle cx="564.41" cy="325.45" r="1.70" fill="#0b5a0b"/>
<circle cx="570.81" cy="325.45" r="1.70" fill="#0b5a0b"/>
<circle cx="564.41" cy="331.83" r="1.70" fill="#0b5a0b"/>
<circle cx="582.45" cy="331.83" r="1.70" fill="#0b5a0b"/>
<circle cx="576.06" cy="308.32" r="1.70" fill="#0b5a0b"/>
<circle cx="582.45" cy="308.32" r="1.70" fill="#0b5a0b"/>
<circle cx="582.45" cy="319.60" r="1.70" fill="#0b5a0b"/>
<circle cx="582.45" cy="325.45" r="1.70" fill="#0b5a0b"/>
<circle cx="570.81" cy="343.88" r="1.70" fill="#0b5a0b"/>
<circle cx="499.70" cy="349.34" r="1.70" fill="#0b5a0b"/>
<circle cx="506.10" cy="349.34" r="1.70" fill="#0b5a0b"/>
<circle cx="523.23" cy="349.34" r="1.70" fill="#0b5a0b"/>
<circle cx="529.45" cy="349.34" r="1.70" fill="#0b5a0b"/>
<circle cx="541.48" cy="349.34" r="1.70" fill="#0b5a0b"/>
<circle cx="558.96" cy="349.34" r="1.70" fill="#0b5a0b"/>
<circle cx="565.00" cy="349.34" r="1.70" fill="#0b5a0b"/>
<circle cx="577.03" cy="349.34" r="1.70" fill="#0b5a0b"/>
<circle cx="546.90" cy="279.18" r="1.70" fill="#0b5a0b"/>
<circle cx="558.96" cy="279.18" r="1.70" fill="#0b5a0b"/>
<circle cx="646.90" cy="279.18" r="1.70" fill="#0b5a0b"/>
<circle cx="664.38" cy="279.18" r="1.70" fill="#0b5a0b"/>
<circle cx="670.19" cy="279.18" r="1.70" fill="#0b5a0b"/>
<circle cx="664.38" cy="284.64" r="1.70" fill="#0b5a0b"/>
<circle cx="658.54" cy="290.87" r="1.70" fill="#0b5a0b"/>
<circle cx="664.38" cy="290.87" r="1.70" fill="#0b5a0b"/>
<circle cx="617.36" cy="296.69" r="1.70" fill="#0b5a0b"/>
<circle cx="635.22" cy="296.69" r="1.70" fill="#0b5a0b"/>
<circle cx="611.34" cy="302.50" r="1.70" fill="#0b5a0b"/>
<circle cx="617.36" cy="302.50" r="1.70" fill="#0b5a0b"/>
<circle cx="635.22" cy="302.50" r="1.70" fill="#0b5a0b"/>
<circle cx="617.36" cy="308.32" r="1.70" fill="#0b5a0b"/>
<circle cx="641.06" cy="308.32" r="1.70" fill="#0b5a0b"/>
<circle cx="646.90" cy="308.32" r="1.70" fill="#0b5a0b"/>
<circle cx="664.38" cy="308.32" r="1.70" fill="#0b5a0b"/>
<circle cx="588.00" cy="313.78" r="1.70" fill="#0b5a0b"/>
<circle cx="599.67" cy="313.78" r="1.70" fill="#0b5a0b"/>
<circle cx="605.71" cy="313.78" r="1.70" fill="#0b5a0b"/>
<circle cx="617.36" cy="313.78" r="1.70" fill="#0b5a0b"/>
<circle cx="623.17" cy="313.78" r="1.70" fill="#0b5a0b"/>
<circle cx="670.19" cy="313.78" r="1.70" fill="#0b5a0b"/>
<circle cx="610.55" cy="316.68" r="1.70" fill="#0b5a0b"/>
<circle cx="605.71" cy="319.99" r="1.70" fill="#0b5a0b"/>
<circle cx="618.15" cy="321.55" r="1.70" fill="#0b5a0b"/>
<circle cx="623.17" cy="319.99" r="1.70" fill="#0b5a0b"/>
<circle cx="641.06" cy="319.99" r="1.70" fill="#0b5a0b"/>
<circle cx="664.38" cy="319.99" r="1.70" fill="#0b5a0b"/>
<circle cx="670.19" cy="319.99" r="1.70" fill="#0b5a0b"/>
<circle cx="588.00" cy="326.01" r="1.70" fill="#0b5a0b"/>
<circle cx="594.04" cy="326.01" r="1.70" fill="#0b5a0b"/>
<circle cx="605.71" cy="326.01" r="1.70" fill="#0b5a0b"/>
<circle cx="641.06" cy="326.01" r="1.70" fill="#0b5a0b"/>
<circle cx="658.54" cy="326.01" r="1.70" fill="#0b5a0b"/>
<circle cx="670.19" cy="326.01" r="1.70" fill="#0b5a0b"/>
<circle cx="627.44" cy="328.73" r="1.70" fill="#0b5a0b"/>
<circle cx="633.28" cy="327.40" r="1.70" fill="#0b5a0b"/>
<circle cx="644.57" cy="329.70" r="1.70" fill="#0b5a0b"/>
<circle cx="588.00" cy="331.83" r="1.70" fill="#0b5a0b"/>
<circle cx="599.67" cy="331.83" r="1.70" fill="#0b5a0b"/>
<circle cx="658.54" cy="331.83" r="1.70" fill="#0b5a0b"/>
<circle cx="670.19" cy="331.83" r="1.70" fill="#0b5a0b"/>
<circle cx="627.06" cy="334.57" r="1.70" fill="#0b5a0b"/>
<circle cx="625.88" cy="336.52" r="1.70" fill="#0b5a0b"/>
<circle cx="594.04" cy="337.67" r="1.70" fill="#0b5a0b"/>
<circle cx="599.67" cy="337.67" r="1.70" fill="#0b5a0b"/>
<circle cx="605.71" cy="337.67" r="1.70" fill="#0b5a0b"/>
<circle cx="658.54" cy="337.67" r="1.70" fill="#0b5a0b"/>
<circle cx="670.19" cy="337.67" r="1.70" fill="#0b5a0b"/>
<circle cx="594.04" cy="343.88" r="1.70" fill="#0b5a0b"/>
<circle cx="599.67" cy="343.88" r="1.70" fill="#0b5a0b"/>
<circle cx="605.71" cy="343.88" r="1.70" fill="#0b5a0b"/>
<circle cx="611.34" cy="343.88" r="1.70" fill="#0b5a0b"/>
<circle cx="646.90" cy="343.88" r="1.70" fill="#0b5a0b"/>
<circle cx="652.73" cy="343.88" r="1.70" fill="#0b5a0b"/>
<circle cx="658.54" cy="343.88" r="1.70" fill="#0b5a0b"/>
<circle cx="664.38" cy="343.88" r="1.70" fill="#0b5a0b"/>
<circle cx="670.19" cy="343.88" r="1.70" fill="#0b5a0b"/>
<circle cx="588.00" cy="349.34" r="1.70" fill="#0b5a0b"/>
<circle cx="594.04" cy="349.34" r="1.70" fill="#0b5a0b"/>
<circle cx="599.67" cy="349.34" r="1.70" fill="#0b5a0b"/>
<circle cx="646.90" cy="349.34" r="1.70" fill="#0b5a0b"/>
<circle cx="658.54" cy="349.34" r="1.70" fill="#0b5a0b"/>
<circle cx="428.86" cy="213.50" r="2.09" fill="none" stroke="#f23636" stroke-width="1.00"/>
<circle cx="408.37" cy="240.61" r="2.27" fill="none" stroke="#f23636" stroke-width="1.00"/>
<circle cx="414.06" cy="244.95" r="2.09" fill="none" stroke="#f23636" stroke-width="1.00"/>
<circle cx="392.10" cy="244.95" r="2.09" fill="none" stroke="#f23636" stroke-width="1.00"/>
<circle cx="442.16" cy="235.85" r="2.27" fill="none" stroke="#f23636" stroke-width="1.00"/>
<circle cx="447.29" cy="239.10" r="2.27" fill="none" stroke="#f23636" stroke-width="1.00"/>
<circle cx="452.18" cy="238.34" r="2.27" fill="none" stroke="#f23636" stroke-width="1.00"/>
<circle cx="450.09" cy="242.12" r="2.27" fill="none" stroke="#f23636" stroke-width="1.00"/>
<circle cx="456.93" cy="245.90" r="2.46" fill="none" stroke="#f23636" stroke-width="1.00"/>
<circle cx="421.85" cy="258.62" r="2.46" fill="none" stroke="#f23636" stroke-width="1.00"/>
<circle cx="434.20" cy="258.62" r="2.46" fill="none" stroke="#f23636" stroke-width="1.00"/>
<circle cx="426.42" cy="270.94" r="2.27" fill="none" stroke="#f23636" stroke-width="1.00"/>
<circle cx="439.51" cy="275.48" r="2.27" fill="none" stroke="#f23636" stroke-width="1.00"/>
<circle cx="481.31" cy="206.47" r="2.09" fill="none" stroke="#f23636" stroke-width="1.00"/>
<circle cx="483.02" cy="213.12" r="2.27" fill="none" stroke="#f23636" stroke-width="1.00"/>
<circle cx="504.42" cy="203.08" r="2.09" fill="none" stroke="#f23636" stroke-width="1.00"/>
<circle cx="509.55" cy="203.64" r="2.09" fill="none" stroke="#f23636" stroke-width="1.00"/>
<circle cx="496.84" cy="218.79" r="2.27" fill="none" stroke="#f23636" stroke-width="1.00"/>
<circle cx="501.97" cy="220.71" r="2.27" fill="none" stroke="#f23636" stroke-width="1.00"/>
<circle cx="497.40" cy="226.41" r="2.09" fill="none" stroke="#f23636" stroke-width="1.00"/>
<circle cx="504.42" cy="226.76" r="2.27" fill="none" stroke="#f23636" stroke-width="1.00"/>
<circle cx="502.53" cy="231.10" r="2.27" fill="none" stroke="#f23636" stroke-width="1.00"/>
<circle cx="512.41" cy="232.08" r="3.22" fill="none" stroke="#f23636" stroke-width="1.00"/>
<circle cx="498.35" cy="235.85" r="2.84" fill="none" stroke="#f23636" stroke-width="1.00"/>
<circle cx="482.25" cy="233.96" r="2.27" fill="none" stroke="#f23636" stroke-width="1.00"/>
<circle cx="486.44" cy="234.35" r="2.27" fill="none" stroke="#f23636" stroke-width="1.00"/>
<circle cx="483.96" cy="225.43" r="2.27" fill="none" stroke="#f23636" stroke-width="1.00"/>
<circle cx="522.46" cy="235.85" r="2.09" fill="none" stroke="#f23636" stroke-width="1.00"/>
<circle cx="510.32" cy="242.50" r="4.93" fill="none" stroke="#f23636" stroke-width="1.00"/>
<circle cx="523.97" cy="211.79" r="2.27" fill="none" stroke="#f23636" stroke-width="1.00"/>
<circle cx="530.04" cy="219.17" r="2.84" fill="none" stroke="#f23636" stroke-width="1.00"/>
<circle cx="540.06" cy="244.39" r="5.31" fill="none" stroke="#f23636" stroke-width="1.00"/>
<circle cx="527.21" cy="261.07" r="4.93" fill="none" stroke="#f23636" stroke-width="1.00"/>
<circle cx="536.64" cy="267.51" r="4.93" fill="none" stroke="#f23636" stroke-width="1.00"/>
<circle cx="489.65" cy="269.40" r="5.12" fill="none" stroke="#f23636" stroke-width="1.00"/>
<circle cx="492.66" cy="249.14" r="2.09" fill="none" stroke="#f23636" stroke-width="1.00"/>
<circle cx="554.09" cy="248.55" r="1.90" fill="none" stroke="#f23636" stroke-width="1.00"/>
<circle cx="562.64" cy="213.12" r="2.27" fill="none" stroke="#f23636" stroke-width="1.00"/>
<circle cx="573.08" cy="263.73" r="1.90" fill="none" stroke="#f23636" stroke-width="1.00"/>
<circle cx="582.16" cy="205.53" r="4.74" fill="none" stroke="#f23636" stroke-width="1.00"/>
<circle cx="604.95" cy="219.35" r="2.27" fill="none" stroke="#f23636" stroke-width="1.00"/>
<circle cx="617.65" cy="230.75" r="2.27" fill="none" stroke="#f23636" stroke-width="1.00"/>
<circle cx="642.86" cy="214.45" r="1.90" fill="none" stroke="#f23636" stroke-width="1.00"/>
<circle cx="652.73" cy="225.43" r="1.90" fill="none" stroke="#f23636" stroke-width="1.00"/>
<circle cx="655.56" cy="242.50" r="1.90" fill="none" stroke="#f23636" stroke-width="1.00"/>
<circle cx="635.28" cy="248.76" r="2.09" fill="none" stroke="#f23636" stroke-width="1.00"/>
<circle cx="602.12" cy="251.98" r="5.31" fill="none" stroke="#f23636" stroke-width="1.00"/>
<circle cx="664.50" cy="269.02" r="2.09" fill="none" stroke="#f23636" stroke-width="1.00"/>
<circle cx="644.77" cy="274.16" r="2.09" fill="none" stroke="#f23636" stroke-width="1.00"/>
<circle cx="387.53" cy="281.33" r="2.14" fill="none" stroke="#f23636" stroke-width="1.00"/>
<circle cx="409.49" cy="281.71" r="2.33" fill="none" stroke="#f23636" stroke-width="1.00"/>
<circle cx="428.92" cy="284.23" r="2.14" fill="none" stroke="#f23636" stroke-width="1.00"/>
<circle cx="393.78" cy="294.91" r="2.72" fill="none" stroke="#f23636" stroke-width="1.00"/>
<circle cx="407.93" cy="292.97" r="1.94" fill="none" stroke="#f23636" stroke-width="1.00"/>
<circle cx="420.58" cy="296.86" r="2.33" fill="none" stroke="#f23636" stroke-width="1.00"/>
<circle cx="430.28" cy="296.86" r="2.33" fill="none" stroke="#f23636" stroke-width="1.00"/>
<circle cx="441.36" cy="291.40" r="2.14" fill="none" stroke="#f23636" stroke-width="1.00"/>
<circle cx="449.71" cy="296.86" r="2.33" fill="none" stroke="#f23636" stroke-width="1.00"/>
<circle cx="445.84" cy="300.17" r="1.94" fill="none" stroke="#f23636" stroke-width="1.00"/>
<circle cx="410.85" cy="302.50" r="2.53" fill="none" stroke="#f23636" stroke-width="1.00"/>
<circle cx="410.85" cy="308.91" r="2.14" fill="none" stroke="#f23636" stroke-width="1.00"/>
<circle cx="424.47" cy="308.14" r="2.33" fill="none" stroke="#f23636" stroke-width="1.00"/>
<circle cx="459.43" cy="319.22" r="2.14" fill="none" stroke="#f23636" stroke-width="1.00"/>
<circle cx="428.33" cy="324.47" r="2.33" fill="none" stroke="#f23636" stroke-width="1.00"/>
<circle cx="420.58" cy="329.88" r="5.83" fill="none" stroke="#f23636" stroke-width="1.00"/>
<circle cx="428.33" cy="329.88" r="1.94" fill="none" stroke="#f23636" stroke-width="1.00"/>
<circle cx="390.45" cy="327.40" r="1.94" fill="none" stroke="#f23636" stroke-width="1.00"/>
<circle cx="401.54" cy="328.90" r="1.94" fill="none" stroke="#f23636" stroke-width="1.00"/>
<circle cx="408.32" cy="335.13" r="2.14" fill="none" stroke="#f23636" stroke-width="1.00"/>
<circle cx="402.12" cy="345.44" r="5.44" fill="none" stroke="#f23636" stroke-width="1.00"/>
<circle cx="442.34" cy="331.24" r="1.94" fill="none" stroke="#f23636" stroke-width="1.00"/>
<circle cx="437.47" cy="339.03" r="1.94" fill="none" stroke="#f23636" stroke-width="1.00"/>
<circle cx="440.98" cy="336.70" r="1.94" fill="none" stroke="#f23636" stroke-width="1.00"/>
<circle cx="443.51" cy="344.26" r="2.33" fill="none" stroke="#f23636" stroke-width="1.00"/>
<circle cx="450.29" cy="327.40" r="1.94" fill="none" stroke="#f23636" stroke-width="1.00"/>
<circle cx="457.87" cy="330.68" r="1.94" fill="none" stroke="#f23636" stroke-width="1.00"/>
<circle cx="460.41" cy="335.73" r="1.94" fill="none" stroke="#f23636" stroke-width="1.00"/>
<circle cx="453.21" cy="338.65" r="2.33" fill="none" stroke="#f23636" stroke-width="1.00"/>
<circle cx="457.49" cy="344.85" r="2.72" fill="none" stroke="#f23636" stroke-width="1.00"/>
<circle cx="522.05" cy="281.71" r="4.66" fill="none" stroke="#f23636" stroke-width="1.00"/>
<circle cx="532.37" cy="285.02" r="3.89" fill="none" stroke="#f23636" stroke-width="1.00"/>
<circle cx="571.78" cy="295.89" r="4.27" fill="none" stroke="#f23636" stroke-width="1.00"/>
<circle cx="503.77" cy="296.27" r="4.66" fill="none" stroke="#f23636" stroke-width="1.00"/>
<circle cx="511.55" cy="301.74" r="3.69" fill="none" stroke="#f23636" stroke-width="1.00"/>
<circle cx="530.01" cy="298.81" r="3.89" fill="none" stroke="#f23636" stroke-width="1.00"/>
<circle cx="533.34" cy="303.66" r="3.89" fill="none" stroke="#f23636" stroke-width="1.00"/>
<circle cx="506.10" cy="316.29" r="4.27" fill="none" stroke="#f23636" stroke-width="1.00"/>
<circle cx="523.61" cy="317.06" r="3.30" fill="none" stroke="#f23636" stroke-width="1.00"/>
<circle cx="532.37" cy="321.93" r="3.50" fill="none" stroke="#f23636" stroke-width="1.00"/>
<circle cx="549.82" cy="319.22" r="4.27" fill="none" stroke="#f23636" stroke-width="1.00"/>
<circle cx="500.85" cy="326.98" r="4.66" fill="none" stroke="#f23636" stroke-width="1.00"/>
<circle cx="516.80" cy="332.21" r="4.47" fill="none" stroke="#f23636" stroke-width="1.00"/>
<circle cx="526.91" cy="339.62" r="4.86" fill="none" stroke="#f23636" stroke-width="1.00"/>
<circle cx="578.00" cy="315.73" r="3.89" fill="none" stroke="#f23636" stroke-width="1.00"/>
<circle cx="613.88" cy="286.00" r="5.25" fill="none" stroke="#f23636" stroke-width="1.00"/>
<circle cx="643.39" cy="284.64" r="4.47" fill="none" stroke="#f23636" stroke-width="1.00"/>
<circle cx="601.23" cy="295.30" r="4.66" fill="none" stroke="#f23636" stroke-width="1.00"/>
<circle cx="633.87" cy="320.58" r="1.94" fill="none" stroke="#f23636" stroke-width="1.00"/>
<circle cx="647.46" cy="319.01" r="1.75" fill="none" stroke="#f23636" stroke-width="1.00"/>
<circle cx="650.79" cy="319.99" r="1.94" fill="none" stroke="#f23636" stroke-width="1.00"/>
<circle cx="610.55" cy="336.52" r="1.94" fill="none" stroke="#f23636" stroke-width="1.00"/>
<rect x="372.10" y="196.50" width="311.29" height="161.75" fill="none" stroke="#555" stroke-width="1"/>
<line x1="380.28" y1="358.25" x2="380.28" y2="364.05" stroke="#555" stroke-width="1"/>
<text x="380.28" y="374.85" text-anchor="middle">0</text>
<line x1="439.24" y1="358.25" x2="439.24" y2="364.05" stroke="#555" stroke-width="1"/>
<text x="439.24" y="374.85" text-anchor="middle">20</text>
<line x1="498.20" y1="358.25" x2="498.20" y2="364.05" stroke="#555" stroke-width="1"/>
<text x="498.20" y="374.85" text-anchor="middle">40</text>
<line x1="557.16" y1="358.25" x2="557.16" y2="364.05" stroke="#555" stroke-width="1"/>
<text x="557.16" y="374.85" text-anchor="middle">60</text>
<line x1="616.12" y1="358.25" x2="616.12" y2="364.05" stroke="#555" stroke-width="1"/>
<text x="616.12" y="374.85" text-anchor="middle">80</text>
<line x1="675.08" y1="358.25" x2="675.08" y2="364.05" stroke="#555" stroke-width="1"/>
<text x="675.08" y="374.85" text-anchor="middle">100</text>
<line x1="372.10" y1="351.14" x2="366.30" y2="351.14" stroke="#555" stroke-width="1"/>
<text transform="translate(362.00 351.14) rotate(-90)" text-anchor="middle">0</text>
<line x1="372.10" y1="321.61" x2="366.30" y2="321.61" stroke="#555" stroke-width="1"/>
<text transform="translate(362.00 321.61) rotate(-90)" text-anchor="middle">10</text>
<line x1="372.10" y1="292.08" x2="366.30" y2="292.08" stroke="#555" stroke-width="1"/>
<text transform="translate(362.00 292.08) rotate(-90)" text-anchor="middle">20</text>
<line x1="372.10" y1="262.55" x2="366.30" y2="262.55" stroke="#555" stroke-width="1"/>
<text transform="translate(362.00 262.55) rotate(-90)" text-anchor="middle">30</text>
<line x1="372.10" y1="233.02" x2="366.30" y2="233.02" stroke="#555" stroke-width="1"/>
<text transform="translate(362.00 233.02) rotate(-90)" text-anchor="middle">40</text>
<line x1="372.10" y1="203.49" x2="366.30" y2="203.49" stroke="#555" stroke-width="1"/>
<text transform="translate(362.00 203.49) rotate(-90)" text-anchor="middle">50</text>
<rect x="178.4" y="387.5" width="342.2" height="31.9" fill="none" stroke="#444" stroke-width="1"/>
<rect x="187.4" y="400.6" width="5.8" height="5.8" fill="#c3c3c3"/>
<text class="lg" x="202.7" y="408.5" font-size="13">(1-5]</text>
<rect x="255.0" y="400.6" width="5.8" height="5.8" fill="#8f8f8f"/>
<text class="lg" x="269.6" y="408.5" font-size="13">(6-10]</text>
<rect x="322.5" y="400.6" width="5.8" height="5.8" fill="#676767"/>
<text class="lg" x="336.2" y="408.5" font-size="13">(11-15]</text>
<rect x="389.3" y="400.6" width="5.8" height="5.8" fill="#383838"/>
<text class="lg" x="404.4" y="408.5" font-size="13">(15-20]</text>
<rect x="455.8" y="400.6" width="5.8" height="5.8" fill="#050505"/>
<text class="lg" x="470.8" y="408.5" font-size="13">&gt;20</text>
</svg>
</body></html>
